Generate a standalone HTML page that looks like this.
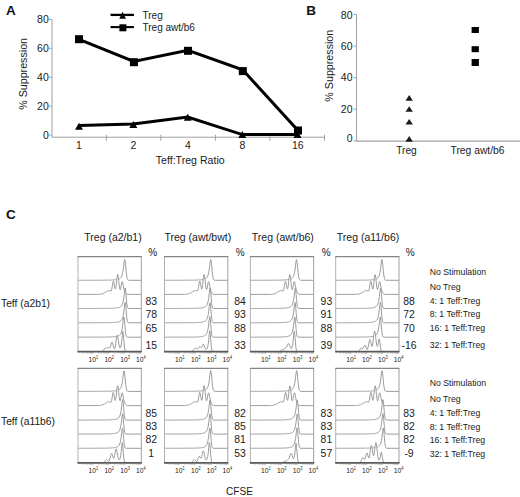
<!DOCTYPE html>
<html><head><meta charset="utf-8"><style>
html,body{margin:0;padding:0;background:#fff;width:520px;height:497px;overflow:hidden;}
svg{display:block;font-family:"Liberation Sans", sans-serif;}
</style></head><body>
<svg width="520" height="497" viewBox="0 0 520 497" font-family='"Liberation Sans", sans-serif'><text x="6.0" y="15.4" font-size="13.5" text-anchor="start" font-weight="bold" fill="#111" >A</text>
<line x1="52.0" y1="19.400000000000006" x2="52.0" y2="137.2" stroke="#a0a0a0" stroke-width="1"/>
<line x1="49.0" y1="135.0" x2="52.0" y2="135.0" stroke="#a0a0a0" stroke-width="1"/>
<text x="48.8" y="138.7" font-size="10.5" text-anchor="end" font-weight="normal" fill="#1a1a1a" >0</text>
<line x1="49.0" y1="106.1" x2="52.0" y2="106.1" stroke="#a0a0a0" stroke-width="1"/>
<text x="48.8" y="109.8" font-size="10.5" text-anchor="end" font-weight="normal" fill="#1a1a1a" >20</text>
<line x1="49.0" y1="77.2" x2="52.0" y2="77.2" stroke="#a0a0a0" stroke-width="1"/>
<text x="48.8" y="80.9" font-size="10.5" text-anchor="end" font-weight="normal" fill="#1a1a1a" >40</text>
<line x1="49.0" y1="48.3" x2="52.0" y2="48.3" stroke="#a0a0a0" stroke-width="1"/>
<text x="48.8" y="52.0" font-size="10.5" text-anchor="end" font-weight="normal" fill="#1a1a1a" >60</text>
<line x1="49.0" y1="19.400000000000006" x2="52.0" y2="19.400000000000006" stroke="#a0a0a0" stroke-width="1"/>
<text x="48.8" y="23.1" font-size="10.5" text-anchor="end" font-weight="normal" fill="#1a1a1a" >80</text>
<line x1="52.0" y1="137.2" x2="324.5" y2="137.2" stroke="#a0a0a0" stroke-width="1"/>
<line x1="106.3" y1="134.7" x2="106.3" y2="140.7" stroke="#a0a0a0" stroke-width="1"/>
<line x1="160.8" y1="134.7" x2="160.8" y2="140.7" stroke="#a0a0a0" stroke-width="1"/>
<line x1="215.4" y1="134.7" x2="215.4" y2="140.7" stroke="#a0a0a0" stroke-width="1"/>
<line x1="269.9" y1="134.7" x2="269.9" y2="140.7" stroke="#a0a0a0" stroke-width="1"/>
<line x1="324.5" y1="134.7" x2="324.5" y2="140.7" stroke="#a0a0a0" stroke-width="1"/>
<text x="79.0" y="148.8" font-size="10.5" text-anchor="middle" font-weight="normal" fill="#1a1a1a" >1</text>
<text x="133.5" y="148.8" font-size="10.5" text-anchor="middle" font-weight="normal" fill="#1a1a1a" >2</text>
<text x="188.0" y="148.8" font-size="10.5" text-anchor="middle" font-weight="normal" fill="#1a1a1a" >4</text>
<text x="242.4" y="148.8" font-size="10.5" text-anchor="middle" font-weight="normal" fill="#1a1a1a" >8</text>
<text x="297.8" y="148.8" font-size="10.5" text-anchor="middle" font-weight="normal" fill="#1a1a1a" >16</text>
<text x="190.2" y="163.8" font-size="10.6" text-anchor="middle" font-weight="normal" fill="#1a1a1a" >Teff:Treg Ratio</text>
<text x="0" y="0" font-size="10.7" text-anchor="middle" font-weight="normal" fill="#1a1a1a" transform="translate(26.6,73.9) rotate(-90)">% Suppression</text>
<polyline points="79,125.6 133.3,123.9 187.7,117.1 242.3,134.6 297.5,134.6" fill="none" stroke="#000" stroke-width="3.0" stroke-linejoin="miter"/>
<polyline points="79,39.3 133.7,61.4 187.9,50.4 242.7,69.8 298,130.6" fill="none" stroke="#000" stroke-width="3.0" stroke-linejoin="miter"/>
<polygon points="75.0,129.7 83.0,129.7 79,122.7" fill="#000"/>
<polygon points="129.3,127.9 137.3,127.9 133.3,120.9" fill="#000"/>
<polygon points="183.7,120.7 191.7,120.7 187.7,113.7" fill="#000"/>
<polygon points="238.3,138.1 246.3,138.1 242.3,131.1" fill="#000"/>
<polygon points="293.5,138.1 301.5,138.1 297.5,131.1" fill="#000"/>
<rect x="75.0" y="35.2" width="8" height="8" fill="#000"/>
<rect x="129.9" y="58.2" width="8" height="8" fill="#000"/>
<rect x="184.0" y="46.8" width="8" height="8" fill="#000"/>
<rect x="238.8" y="67.1" width="8" height="8" fill="#000"/>
<rect x="294.0" y="126.5" width="8" height="8" fill="#000"/>
<line x1="110.5" y1="14.9" x2="133.9" y2="14.9" stroke="#000" stroke-width="2.3"/>
<polygon points="119.3,18.7 125.89999999999999,18.7 122.6,11.7" fill="#000"/>
<line x1="110.5" y1="27.1" x2="133.9" y2="27.1" stroke="#000" stroke-width="2.1"/>
<rect x="119.4" y="24.3" width="7" height="7" fill="#000"/>
<text x="142.5" y="19.0" font-size="10" text-anchor="start" font-weight="normal" fill="#1a1a1a" >Treg</text>
<text x="142.5" y="31.0" font-size="10" text-anchor="start" font-weight="normal" fill="#1a1a1a" >Treg awt/b6</text>
<text x="306.3" y="15.4" font-size="13.5" text-anchor="start" font-weight="bold" fill="#111" >B</text>
<line x1="356.5" y1="14.500000000000014" x2="356.5" y2="141.2" stroke="#a0a0a0" stroke-width="1"/>
<line x1="353.5" y1="140.8" x2="356.5" y2="140.8" stroke="#a0a0a0" stroke-width="1"/>
<text x="352.5" y="141.65" font-size="10.5" text-anchor="end" font-weight="normal" fill="#1a1a1a" >0</text>
<line x1="353.5" y1="109.2" x2="356.5" y2="109.2" stroke="#a0a0a0" stroke-width="1"/>
<text x="352.5" y="112.85" font-size="10.5" text-anchor="end" font-weight="normal" fill="#1a1a1a" >20</text>
<line x1="353.5" y1="77.7" x2="356.5" y2="77.7" stroke="#a0a0a0" stroke-width="1"/>
<text x="352.5" y="81.35" font-size="10.5" text-anchor="end" font-weight="normal" fill="#1a1a1a" >40</text>
<line x1="353.5" y1="46.1" x2="356.5" y2="46.1" stroke="#a0a0a0" stroke-width="1"/>
<text x="352.5" y="49.95" font-size="10.5" text-anchor="end" font-weight="normal" fill="#1a1a1a" >60</text>
<line x1="353.5" y1="14.5" x2="356.5" y2="14.5" stroke="#a0a0a0" stroke-width="1"/>
<text x="352.5" y="18.85" font-size="10.5" text-anchor="end" font-weight="normal" fill="#1a1a1a" >80</text>
<line x1="356.5" y1="141.2" x2="520" y2="141.2" stroke="#a0a0a0" stroke-width="1.2"/>
<text x="406.5" y="153.5" font-size="10.2" text-anchor="middle" font-weight="normal" fill="#1a1a1a" >Treg</text>
<text x="477.5" y="153.5" font-size="10.3" text-anchor="middle" font-weight="normal" fill="#1a1a1a" >Treg awt/b6</text>
<text x="0" y="0" font-size="10.7" text-anchor="middle" font-weight="normal" fill="#1a1a1a" transform="translate(333.3,65.7) rotate(-90)">% Suppression</text>
<polygon points="405.5,100.7 412.9,100.7 409.2,95.10000000000001" fill="#1a1a1a"/>
<polygon points="405.5,111.8 412.9,111.8 409.2,106.2" fill="#1a1a1a"/>
<polygon points="405.5,124.6 412.9,124.6 409.2,119.0" fill="#1a1a1a"/>
<polygon points="405.5,141.70000000000002 412.9,141.70000000000002 409.2,136.1" fill="#1a1a1a"/>
<rect x="471.6" y="27.0" width="7.3" height="6.0" fill="#000"/>
<rect x="471.6" y="46.2" width="7.3" height="6.0" fill="#000"/>
<rect x="471.6" y="59.0" width="7.3" height="7.0" fill="#000"/>
<text x="6.0" y="219.2" font-size="13.5" text-anchor="start" font-weight="bold" fill="#111" >C</text>
<text x="113.0" y="241.0" font-size="10.5" text-anchor="middle" font-weight="normal" fill="#1a1a1a" >Treg (a2/b1)</text>
<text x="152.6" y="255.6" font-size="10" text-anchor="middle" font-weight="normal" fill="#1a1a1a" >%</text>
<text x="197.8" y="241.0" font-size="10.5" text-anchor="middle" font-weight="normal" fill="#1a1a1a" >Treg (awt/bwt)</text>
<text x="240.1" y="255.6" font-size="10" text-anchor="middle" font-weight="normal" fill="#1a1a1a" >%</text>
<text x="282.8" y="241.0" font-size="10.5" text-anchor="middle" font-weight="normal" fill="#1a1a1a" >Treg (awt/b6)</text>
<text x="326.2" y="255.6" font-size="10" text-anchor="middle" font-weight="normal" fill="#1a1a1a" >%</text>
<text x="368.0" y="241.0" font-size="10.5" text-anchor="middle" font-weight="normal" fill="#1a1a1a" >Treg (a11/b6)</text>
<text x="410.1" y="255.6" font-size="10" text-anchor="middle" font-weight="normal" fill="#1a1a1a" >%</text>
<text x="1.0" y="306.5" font-size="10.3" text-anchor="start" font-weight="normal" fill="#1a1a1a" >Teff (a2b1)</text>
<path d="M78.0,280.30 L78.00,280.28 L78.50,280.28 L79.00,280.28 L79.51,280.28 L80.01,280.28 L80.51,280.28 L81.01,280.28 L81.52,280.27 L82.02,280.27 L82.52,280.27 L83.02,280.27 L83.53,280.27 L84.03,280.27 L84.53,280.27 L85.03,280.27 L85.54,280.27 L86.04,280.27 L86.54,280.27 L87.04,280.27 L87.55,280.27 L88.05,280.27 L88.55,280.26 L89.05,280.26 L89.55,280.26 L90.06,280.26 L90.56,280.26 L91.06,280.26 L91.56,280.26 L92.07,280.26 L92.57,280.25 L93.07,280.25 L93.57,280.25 L94.08,280.25 L94.58,280.25 L95.08,280.25 L95.58,280.24 L96.09,280.24 L96.59,280.24 L97.09,280.24 L97.59,280.24 L98.10,280.23 L98.60,280.23 L99.10,280.23 L99.60,280.23 L100.10,280.22 L100.61,280.22 L101.11,280.22 L101.61,280.21 L102.11,280.21 L102.62,280.20 L103.12,280.20 L103.62,280.20 L104.12,280.19 L104.63,280.18 L105.13,280.18 L105.63,280.17 L106.13,280.17 L106.64,280.16 L107.14,280.15 L107.64,280.14 L108.14,280.13 L108.65,280.12 L109.15,280.11 L109.65,280.10 L110.15,280.08 L110.65,280.07 L111.16,280.05 L111.66,280.03 L112.16,280.01 L112.66,279.98 L113.17,279.95 L113.67,279.92 L114.17,279.89 L114.67,279.84 L115.18,279.80 L115.68,279.74 L116.18,279.67 L116.68,279.60 L117.19,279.50 L117.69,279.39 L118.19,279.25 L118.69,279.08 L119.20,278.86 L119.70,278.58 L120.20,278.22 L120.70,277.73 L121.20,277.06 L121.71,276.12 L122.21,274.76 L122.71,272.75 L123.21,269.80 L123.72,265.75 L124.22,261.44 L124.72,259.50 L125.22,261.55 L125.73,266.33 L126.23,271.70 L126.73,275.93 L127.23,278.46 L127.74,279.66 L128.24,280.12 L128.74,280.26 L129.24,280.29 L141.30,280.30 L141.3,280.30" fill="#fff" stroke="#8a8a8a" stroke-width="0.85"/>
<path d="M78.0,294.40 L78.00,294.40 L97.09,294.38 L97.59,294.37 L98.10,294.36 L98.60,294.34 L99.10,294.31 L99.60,294.27 L100.10,294.22 L100.61,294.16 L101.11,294.07 L101.61,293.96 L102.11,293.83 L102.62,293.66 L103.12,293.47 L103.62,293.24 L104.12,292.98 L104.63,292.70 L105.13,292.40 L105.63,292.08 L106.13,291.76 L106.64,291.45 L107.14,291.16 L107.64,290.90 L108.14,290.68 L108.65,290.52 L109.15,290.42 L109.65,290.36 L110.15,290.63 L110.65,291.10 L111.16,291.03 L111.66,289.71 L112.16,286.98 L112.66,283.69 L113.17,281.44 L113.67,281.53 L114.17,283.89 L114.67,287.02 L115.18,289.02 L115.68,288.59 L116.18,285.50 L116.68,280.72 L117.19,276.27 L117.69,274.39 L118.19,276.11 L118.69,280.50 L119.20,285.39 L119.70,288.78 L120.20,289.70 L120.70,288.26 L121.20,285.40 L121.71,282.67 L122.21,281.55 L122.71,282.63 L123.21,285.21 L123.72,287.93 L124.22,289.93 L124.72,291.24 L125.22,292.31 L125.73,293.24 L126.23,293.90 L126.73,294.24 L127.23,294.36 L127.74,294.39 L141.30,294.40 L141.3,294.40" fill="#fff" stroke="#8a8a8a" stroke-width="0.85"/>
<path d="M78.0,308.50 L78.00,308.48 L78.50,308.48 L79.00,308.48 L79.51,308.48 L80.01,308.48 L80.51,308.48 L81.01,308.48 L81.52,308.48 L82.02,308.48 L82.52,308.48 L83.02,308.48 L83.53,308.48 L84.03,308.47 L84.53,308.47 L85.03,308.47 L85.54,308.47 L86.04,308.47 L86.54,308.47 L87.04,308.47 L87.55,308.47 L88.05,308.47 L88.55,308.47 L89.05,308.47 L89.55,308.47 L90.06,308.47 L90.56,308.46 L91.06,308.46 L91.56,308.46 L92.07,308.46 L92.57,308.46 L93.07,308.46 L93.57,308.46 L94.08,308.46 L94.58,308.45 L95.08,308.45 L95.58,308.45 L96.09,308.45 L96.59,308.45 L97.09,308.45 L97.59,308.44 L98.10,308.44 L98.60,308.44 L99.10,308.44 L99.60,308.43 L100.10,308.43 L100.61,308.43 L101.11,308.43 L101.61,308.42 L102.11,308.42 L102.62,308.42 L103.12,308.41 L103.62,308.41 L104.12,308.40 L104.63,308.40 L105.13,308.39 L105.63,308.39 L106.13,308.38 L106.64,308.38 L107.14,308.37 L107.64,308.36 L108.14,308.35 L108.65,308.34 L109.15,308.33 L109.65,308.32 L110.15,308.31 L110.65,308.30 L111.16,308.28 L111.66,308.27 L112.16,308.25 L112.66,308.23 L113.17,308.21 L113.67,308.18 L114.17,308.15 L114.67,308.12 L115.18,308.08 L115.68,308.04 L116.18,307.98 L116.68,307.92 L117.19,307.85 L117.69,307.76 L118.19,307.66 L118.69,307.53 L119.20,307.37 L119.70,307.17 L120.20,306.91 L120.70,306.57 L121.20,306.11 L121.71,305.49 L122.21,304.60 L122.71,303.30 L123.21,301.37 L123.72,298.48 L124.22,294.44 L124.72,290.01 L125.22,288.01 L125.73,290.92 L126.23,297.09 L126.73,302.90 L127.23,306.43 L127.74,307.92 L128.24,308.38 L128.74,308.48 L141.30,308.50 L141.3,308.50" fill="#fff" stroke="#8a8a8a" stroke-width="0.85"/>
<path d="M78.0,322.80 L78.00,322.78 L78.50,322.78 L79.00,322.78 L79.51,322.78 L80.01,322.78 L80.51,322.78 L81.01,322.78 L81.52,322.78 L82.02,322.78 L82.52,322.78 L83.02,322.78 L83.53,322.78 L84.03,322.77 L84.53,322.77 L85.03,322.77 L85.54,322.77 L86.04,322.77 L86.54,322.77 L87.04,322.77 L87.55,322.77 L88.05,322.77 L88.55,322.77 L89.05,322.77 L89.55,322.77 L90.06,322.77 L90.56,322.76 L91.06,322.76 L91.56,322.76 L92.07,322.76 L92.57,322.76 L93.07,322.76 L93.57,322.76 L94.08,322.76 L94.58,322.75 L95.08,322.75 L95.58,322.75 L96.09,322.75 L96.59,322.75 L97.09,322.75 L97.59,322.74 L98.10,322.74 L98.60,322.74 L99.10,322.74 L99.60,322.73 L100.10,322.73 L100.61,322.73 L101.11,322.73 L101.61,322.72 L102.11,322.72 L102.62,322.72 L103.12,322.71 L103.62,322.71 L104.12,322.70 L104.63,322.70 L105.13,322.69 L105.63,322.69 L106.13,322.68 L106.64,322.68 L107.14,322.67 L107.64,322.66 L108.14,322.65 L108.65,322.64 L109.15,322.63 L109.65,322.62 L110.15,322.61 L110.65,322.60 L111.16,322.58 L111.66,322.57 L112.16,322.55 L112.66,322.53 L113.17,322.51 L113.67,322.48 L114.17,322.45 L114.67,322.42 L115.18,322.38 L115.68,322.34 L116.18,322.28 L116.68,322.22 L117.19,322.15 L117.69,322.06 L118.19,321.96 L118.69,321.83 L119.20,321.67 L119.70,321.47 L120.20,321.21 L120.70,320.87 L121.20,320.41 L121.71,319.79 L122.21,318.90 L122.71,317.60 L123.21,315.67 L123.72,312.78 L124.22,308.74 L124.72,304.31 L125.22,302.31 L125.73,305.22 L126.23,311.39 L126.73,317.20 L127.23,320.73 L127.74,322.22 L128.24,322.68 L128.74,322.78 L141.30,322.80 L141.3,322.80" fill="#fff" stroke="#8a8a8a" stroke-width="0.85"/>
<path d="M78.0,337.20 L78.00,337.18 L78.50,337.18 L79.00,337.18 L79.51,337.18 L80.01,337.18 L80.51,337.18 L81.01,337.18 L81.52,337.18 L82.02,337.18 L82.52,337.17 L83.02,337.17 L83.53,337.17 L84.03,337.17 L84.53,337.17 L85.03,337.17 L85.54,337.17 L86.04,337.17 L86.54,337.17 L87.04,337.17 L87.55,337.17 L88.05,337.17 L88.55,337.17 L89.05,337.16 L89.55,337.16 L90.06,337.16 L90.56,337.16 L91.06,337.16 L91.56,337.16 L92.07,337.16 L92.57,337.16 L93.07,337.15 L93.57,337.15 L94.08,337.15 L94.58,337.15 L95.08,337.15 L95.58,337.15 L96.09,337.14 L96.59,337.14 L97.09,337.14 L97.59,337.14 L98.10,337.14 L98.60,337.13 L99.10,337.13 L99.60,337.13 L100.10,337.12 L100.61,337.12 L101.11,337.12 L101.61,337.11 L102.11,337.11 L102.62,337.11 L103.12,337.10 L103.62,337.10 L104.12,337.09 L104.63,337.08 L105.13,337.08 L105.63,337.07 L106.13,337.06 L106.64,337.06 L107.14,337.05 L107.64,337.04 L108.14,337.03 L108.65,337.02 L109.15,337.00 L109.65,336.99 L110.15,336.97 L110.65,336.96 L111.16,336.94 L111.66,336.92 L112.16,336.89 L112.66,336.86 L113.17,336.83 L113.67,336.80 L114.17,336.75 L114.67,336.71 L115.18,336.65 L115.68,336.58 L116.18,336.50 L116.68,336.40 L117.19,336.29 L117.69,336.14 L118.19,335.96 L118.69,335.72 L119.20,335.42 L119.70,335.02 L120.20,334.47 L120.70,333.70 L121.20,332.60 L121.71,330.96 L122.21,328.51 L122.71,324.93 L123.21,320.45 L123.72,317.02 L124.22,317.82 L124.72,323.09 L125.22,329.44 L125.73,333.97 L126.23,336.18 L126.73,336.96 L127.23,337.16 L127.74,337.19 L141.30,337.20 L141.3,337.20" fill="#fff" stroke="#8a8a8a" stroke-width="0.85"/>
<path d="M78.0,351.70 L78.00,351.69 L87.55,351.68 L88.05,351.68 L88.55,351.68 L89.05,351.68 L89.55,351.68 L90.06,351.68 L90.56,351.68 L91.06,351.68 L91.56,351.67 L92.07,351.67 L92.57,351.67 L93.07,351.67 L93.57,351.67 L94.08,351.67 L94.58,351.67 L95.08,351.67 L95.58,351.67 L96.09,351.67 L96.59,351.66 L97.09,351.66 L97.59,351.66 L98.10,351.66 L98.60,351.66 L99.10,351.66 L99.60,351.65 L100.10,351.65 L100.61,351.65 L101.11,351.64 L101.61,351.61 L102.11,351.53 L102.62,351.34 L103.12,350.95 L103.62,350.31 L104.12,349.48 L104.63,348.66 L105.13,348.12 L105.63,347.97 L106.13,348.09 L106.64,348.16 L107.14,347.96 L107.64,347.58 L108.14,347.33 L108.65,347.44 L109.15,347.80 L109.65,347.93 L110.15,347.33 L110.65,345.85 L111.16,343.94 L111.66,342.47 L112.16,342.23 L112.66,343.42 L113.17,345.48 L113.67,347.52 L114.17,348.74 L114.67,348.65 L115.18,347.00 L115.68,343.91 L116.18,340.05 L116.68,336.70 L117.19,335.24 L117.69,336.30 L118.19,339.30 L118.69,342.90 L119.20,345.83 L119.70,347.48 L120.20,347.82 L120.70,347.02 L121.20,345.02 L121.71,341.37 L122.21,335.78 L122.71,331.33 L123.21,333.06 L123.72,338.83 L124.22,344.98 L124.72,349.05 L125.22,350.91 L125.73,351.52 L126.23,351.67 L126.73,351.70 L141.30,351.70 L141.3,351.70" fill="#fff" stroke="#8a8a8a" stroke-width="0.85"/>
<line x1="78.0" y1="256.7" x2="78.0" y2="351.7" stroke="#a8a8a8" stroke-width="0.9"/>
<line x1="141.3" y1="256.7" x2="141.3" y2="351.7" stroke="#a0a0a0" stroke-width="1"/>
<line x1="77.5" y1="256.7" x2="141.8" y2="256.7" stroke="#858585" stroke-width="1.3"/>
<line x1="77.5" y1="351.7" x2="141.8" y2="351.7" stroke="#5a5a5a" stroke-width="1.7"/>
<text transform="translate(93.4,361.7) scale(0.85,1)" font-size="7.9" text-anchor="middle" fill="#1a1a1a">10<tspan font-size="4.6" dy="-2.6">1</tspan></text>
<text transform="translate(109.2,361.7) scale(0.85,1)" font-size="7.9" text-anchor="middle" fill="#1a1a1a">10<tspan font-size="4.6" dy="-2.6">2</tspan></text>
<text transform="translate(125.1,361.7) scale(0.85,1)" font-size="7.9" text-anchor="middle" fill="#1a1a1a">10<tspan font-size="4.6" dy="-2.6">3</tspan></text>
<text transform="translate(140.9,361.7) scale(0.85,1)" font-size="7.9" text-anchor="middle" fill="#1a1a1a">10<tspan font-size="4.6" dy="-2.6">4</tspan></text>
<line x1="82.8" y1="352.3" x2="82.8" y2="353.5" stroke="#888" stroke-width="0.7"/>
<line x1="85.6" y1="352.3" x2="85.6" y2="353.5" stroke="#888" stroke-width="0.7"/>
<line x1="87.5" y1="352.3" x2="87.5" y2="353.5" stroke="#888" stroke-width="0.7"/>
<line x1="89.1" y1="352.3" x2="89.1" y2="353.5" stroke="#888" stroke-width="0.7"/>
<line x1="90.3" y1="352.3" x2="90.3" y2="353.5" stroke="#888" stroke-width="0.7"/>
<line x1="91.4" y1="352.3" x2="91.4" y2="353.5" stroke="#888" stroke-width="0.7"/>
<line x1="92.3" y1="352.3" x2="92.3" y2="353.5" stroke="#888" stroke-width="0.7"/>
<line x1="93.1" y1="352.3" x2="93.1" y2="353.5" stroke="#888" stroke-width="0.7"/>
<line x1="98.6" y1="352.3" x2="98.6" y2="353.5" stroke="#888" stroke-width="0.7"/>
<line x1="101.4" y1="352.3" x2="101.4" y2="353.5" stroke="#888" stroke-width="0.7"/>
<line x1="103.4" y1="352.3" x2="103.4" y2="353.5" stroke="#888" stroke-width="0.7"/>
<line x1="104.9" y1="352.3" x2="104.9" y2="353.5" stroke="#888" stroke-width="0.7"/>
<line x1="106.1" y1="352.3" x2="106.1" y2="353.5" stroke="#888" stroke-width="0.7"/>
<line x1="107.2" y1="352.3" x2="107.2" y2="353.5" stroke="#888" stroke-width="0.7"/>
<line x1="108.1" y1="352.3" x2="108.1" y2="353.5" stroke="#888" stroke-width="0.7"/>
<line x1="108.9" y1="352.3" x2="108.9" y2="353.5" stroke="#888" stroke-width="0.7"/>
<line x1="114.4" y1="352.3" x2="114.4" y2="353.5" stroke="#888" stroke-width="0.7"/>
<line x1="117.2" y1="352.3" x2="117.2" y2="353.5" stroke="#888" stroke-width="0.7"/>
<line x1="119.2" y1="352.3" x2="119.2" y2="353.5" stroke="#888" stroke-width="0.7"/>
<line x1="120.7" y1="352.3" x2="120.7" y2="353.5" stroke="#888" stroke-width="0.7"/>
<line x1="122.0" y1="352.3" x2="122.0" y2="353.5" stroke="#888" stroke-width="0.7"/>
<line x1="123.0" y1="352.3" x2="123.0" y2="353.5" stroke="#888" stroke-width="0.7"/>
<line x1="123.9" y1="352.3" x2="123.9" y2="353.5" stroke="#888" stroke-width="0.7"/>
<line x1="124.8" y1="352.3" x2="124.8" y2="353.5" stroke="#888" stroke-width="0.7"/>
<line x1="130.2" y1="352.3" x2="130.2" y2="353.5" stroke="#888" stroke-width="0.7"/>
<line x1="133.0" y1="352.3" x2="133.0" y2="353.5" stroke="#888" stroke-width="0.7"/>
<line x1="135.0" y1="352.3" x2="135.0" y2="353.5" stroke="#888" stroke-width="0.7"/>
<line x1="136.5" y1="352.3" x2="136.5" y2="353.5" stroke="#888" stroke-width="0.7"/>
<line x1="137.8" y1="352.3" x2="137.8" y2="353.5" stroke="#888" stroke-width="0.7"/>
<line x1="138.8" y1="352.3" x2="138.8" y2="353.5" stroke="#888" stroke-width="0.7"/>
<line x1="139.8" y1="352.3" x2="139.8" y2="353.5" stroke="#888" stroke-width="0.7"/>
<line x1="140.6" y1="352.3" x2="140.6" y2="353.5" stroke="#888" stroke-width="0.7"/>
<text x="151.2" y="305.09999999999997" font-size="10.4" text-anchor="middle" font-weight="normal" fill="#1a1a1a" >83</text>
<text x="151.2" y="317.7" font-size="10.4" text-anchor="middle" font-weight="normal" fill="#1a1a1a" >78</text>
<text x="151.2" y="331.7" font-size="10.4" text-anchor="middle" font-weight="normal" fill="#1a1a1a" >65</text>
<text x="151.2" y="348.5" font-size="10.4" text-anchor="middle" font-weight="normal" fill="#1a1a1a" >15</text>
<path d="M164.5,280.30 L164.50,280.28 L165.00,280.28 L165.50,280.28 L166.01,280.28 L166.51,280.28 L167.01,280.28 L167.51,280.27 L168.02,280.27 L168.52,280.27 L169.02,280.27 L169.52,280.27 L170.03,280.27 L170.53,280.27 L171.03,280.27 L171.53,280.27 L172.04,280.27 L172.54,280.27 L173.04,280.27 L173.54,280.27 L174.05,280.27 L174.55,280.26 L175.05,280.26 L175.55,280.26 L176.05,280.26 L176.56,280.26 L177.06,280.26 L177.56,280.26 L178.06,280.26 L178.57,280.25 L179.07,280.25 L179.57,280.25 L180.07,280.25 L180.58,280.25 L181.08,280.25 L181.58,280.24 L182.08,280.24 L182.59,280.24 L183.09,280.24 L183.59,280.24 L184.09,280.23 L184.60,280.23 L185.10,280.23 L185.60,280.23 L186.10,280.22 L186.60,280.22 L187.11,280.22 L187.61,280.21 L188.11,280.21 L188.61,280.20 L189.12,280.20 L189.62,280.20 L190.12,280.19 L190.62,280.18 L191.13,280.18 L191.63,280.17 L192.13,280.17 L192.63,280.16 L193.14,280.15 L193.64,280.14 L194.14,280.13 L194.64,280.12 L195.15,280.11 L195.65,280.10 L196.15,280.08 L196.65,280.07 L197.15,280.05 L197.66,280.03 L198.16,280.01 L198.66,279.98 L199.16,279.95 L199.67,279.92 L200.17,279.89 L200.67,279.84 L201.17,279.80 L201.68,279.74 L202.18,279.67 L202.68,279.60 L203.18,279.50 L203.69,279.39 L204.19,279.25 L204.69,279.08 L205.19,278.86 L205.70,278.59 L206.20,278.22 L206.70,277.74 L207.20,277.07 L207.70,276.13 L208.21,274.77 L208.71,272.77 L209.21,269.82 L209.71,265.77 L210.22,261.46 L210.72,259.50 L211.22,261.53 L211.72,266.31 L212.23,271.68 L212.73,275.91 L213.23,278.45 L213.73,279.66 L214.24,280.12 L214.74,280.26 L215.24,280.29 L227.80,280.30 L227.8,280.30" fill="#fff" stroke="#8a8a8a" stroke-width="0.85"/>
<path d="M164.5,294.40 L164.50,294.40 L183.59,294.38 L184.09,294.37 L184.60,294.36 L185.10,294.33 L185.60,294.31 L186.10,294.27 L186.60,294.21 L187.11,294.14 L187.61,294.05 L188.11,293.94 L188.61,293.79 L189.12,293.62 L189.62,293.42 L190.12,293.19 L190.62,292.93 L191.13,292.64 L191.63,292.34 L192.13,292.02 L192.63,291.70 L193.14,291.39 L193.64,291.10 L194.14,290.85 L194.64,290.65 L195.15,290.50 L195.65,290.41 L196.15,290.38 L196.65,290.73 L197.15,291.15 L197.66,290.88 L198.16,289.27 L198.66,286.33 L199.16,283.10 L199.67,281.25 L200.17,281.85 L200.67,284.52 L201.17,287.56 L201.68,289.15 L202.18,288.17 L202.68,284.63 L203.18,279.73 L203.69,275.63 L204.19,274.45 L204.69,276.83 L205.19,281.51 L205.70,286.23 L206.20,289.17 L206.70,289.58 L207.20,287.76 L207.70,284.80 L208.21,282.28 L208.71,281.59 L209.21,283.07 L209.71,285.78 L210.22,288.40 L210.72,290.23 L211.22,291.47 L211.72,292.51 L212.23,293.40 L212.73,293.99 L213.23,294.27 L213.73,294.37 L214.24,294.40 L227.80,294.40 L227.8,294.40" fill="#fff" stroke="#8a8a8a" stroke-width="0.85"/>
<path d="M164.5,308.50 L164.50,308.48 L165.00,308.48 L165.50,308.48 L166.01,308.48 L166.51,308.48 L167.01,308.48 L167.51,308.48 L168.02,308.48 L168.52,308.48 L169.02,308.47 L169.52,308.47 L170.03,308.47 L170.53,308.47 L171.03,308.47 L171.53,308.47 L172.04,308.47 L172.54,308.47 L173.04,308.47 L173.54,308.47 L174.05,308.47 L174.55,308.47 L175.05,308.46 L175.55,308.46 L176.05,308.46 L176.56,308.46 L177.06,308.46 L177.56,308.46 L178.06,308.46 L178.57,308.46 L179.07,308.46 L179.57,308.45 L180.07,308.45 L180.58,308.45 L181.08,308.45 L181.58,308.45 L182.08,308.45 L182.59,308.44 L183.09,308.44 L183.59,308.44 L184.09,308.44 L184.60,308.43 L185.10,308.43 L185.60,308.43 L186.10,308.43 L186.60,308.42 L187.11,308.42 L187.61,308.42 L188.11,308.41 L188.61,308.41 L189.12,308.40 L189.62,308.40 L190.12,308.39 L190.62,308.39 L191.13,308.38 L191.63,308.37 L192.13,308.37 L192.63,308.36 L193.14,308.35 L193.64,308.34 L194.14,308.33 L194.64,308.32 L195.15,308.31 L195.65,308.30 L196.15,308.28 L196.65,308.26 L197.15,308.25 L197.66,308.23 L198.16,308.20 L198.66,308.18 L199.16,308.15 L199.67,308.11 L200.17,308.07 L200.67,308.03 L201.17,307.97 L201.68,307.91 L202.18,307.84 L202.68,307.75 L203.18,307.64 L203.69,307.50 L204.19,307.34 L204.69,307.13 L205.19,306.85 L205.70,306.50 L206.20,306.01 L206.70,305.35 L207.20,304.39 L207.70,303.00 L208.21,300.92 L208.71,297.82 L209.21,293.59 L209.71,289.35 L210.22,288.15 L210.72,291.92 L211.22,298.29 L211.72,303.74 L212.23,306.82 L212.73,308.05 L213.23,308.41 L213.73,308.49 L227.80,308.50 L227.8,308.50" fill="#fff" stroke="#8a8a8a" stroke-width="0.85"/>
<path d="M164.5,322.80 L164.50,322.78 L165.00,322.78 L165.50,322.78 L166.01,322.78 L166.51,322.78 L167.01,322.78 L167.51,322.78 L168.02,322.78 L168.52,322.77 L169.02,322.77 L169.52,322.77 L170.03,322.77 L170.53,322.77 L171.03,322.77 L171.53,322.77 L172.04,322.77 L172.54,322.77 L173.04,322.77 L173.54,322.77 L174.05,322.77 L174.55,322.77 L175.05,322.76 L175.55,322.76 L176.05,322.76 L176.56,322.76 L177.06,322.76 L177.56,322.76 L178.06,322.76 L178.57,322.76 L179.07,322.76 L179.57,322.75 L180.07,322.75 L180.58,322.75 L181.08,322.75 L181.58,322.75 L182.08,322.74 L182.59,322.74 L183.09,322.74 L183.59,322.74 L184.09,322.74 L184.60,322.73 L185.10,322.73 L185.60,322.73 L186.10,322.72 L186.60,322.72 L187.11,322.72 L187.61,322.71 L188.11,322.71 L188.61,322.71 L189.12,322.70 L189.62,322.70 L190.12,322.69 L190.62,322.69 L191.13,322.68 L191.63,322.67 L192.13,322.67 L192.63,322.66 L193.14,322.65 L193.64,322.64 L194.14,322.63 L194.64,322.62 L195.15,322.61 L195.65,322.59 L196.15,322.58 L196.65,322.56 L197.15,322.54 L197.66,322.52 L198.16,322.50 L198.66,322.47 L199.16,322.44 L199.67,322.40 L200.17,322.36 L200.67,322.32 L201.17,322.26 L201.68,322.20 L202.18,322.12 L202.68,322.03 L203.18,321.91 L203.69,321.77 L204.19,321.60 L204.69,321.38 L205.19,321.09 L205.70,320.71 L206.20,320.20 L206.70,319.48 L207.20,318.46 L207.70,316.95 L208.21,314.69 L208.71,311.36 L209.21,306.97 L209.71,303.07 L210.22,302.83 L210.72,307.41 L211.22,313.83 L211.72,318.85 L212.23,321.48 L212.73,322.47 L213.23,322.74 L213.73,322.79 L227.80,322.80 L227.8,322.80" fill="#fff" stroke="#8a8a8a" stroke-width="0.85"/>
<path d="M164.5,337.20 L164.50,337.18 L165.00,337.18 L165.50,337.18 L166.01,337.18 L166.51,337.18 L167.01,337.18 L167.51,337.18 L168.02,337.18 L168.52,337.17 L169.02,337.17 L169.52,337.17 L170.03,337.17 L170.53,337.17 L171.03,337.17 L171.53,337.17 L172.04,337.17 L172.54,337.17 L173.04,337.17 L173.54,337.17 L174.05,337.17 L174.55,337.17 L175.05,337.16 L175.55,337.16 L176.05,337.16 L176.56,337.16 L177.06,337.16 L177.56,337.16 L178.06,337.16 L178.57,337.16 L179.07,337.15 L179.57,337.15 L180.07,337.15 L180.58,337.15 L181.08,337.15 L181.58,337.15 L182.08,337.14 L182.59,337.14 L183.09,337.14 L183.59,337.14 L184.09,337.13 L184.60,337.13 L185.10,337.13 L185.60,337.13 L186.10,337.12 L186.60,337.12 L187.11,337.12 L187.61,337.11 L188.11,337.11 L188.61,337.10 L189.12,337.10 L189.62,337.09 L190.12,337.09 L190.62,337.08 L191.13,337.08 L191.63,337.07 L192.13,337.06 L192.63,337.05 L193.14,337.05 L193.64,337.04 L194.14,337.03 L194.64,337.01 L195.15,337.00 L195.65,336.99 L196.15,336.97 L196.65,336.95 L197.15,336.93 L197.66,336.91 L198.16,336.89 L198.66,336.86 L199.16,336.83 L199.67,336.79 L200.17,336.75 L200.67,336.70 L201.17,336.64 L201.68,336.57 L202.18,336.48 L202.68,336.38 L203.18,336.26 L203.69,336.11 L204.19,335.92 L204.69,335.67 L205.19,335.35 L205.70,334.93 L206.20,334.34 L206.70,333.52 L207.20,332.33 L207.70,330.56 L208.21,327.91 L208.71,324.11 L209.21,319.60 L209.71,316.77 L210.22,318.58 L210.72,324.36 L211.22,330.51 L211.72,334.56 L212.23,336.41 L212.73,337.02 L213.23,337.17 L213.73,337.20 L227.80,337.20 L227.8,337.20" fill="#fff" stroke="#8a8a8a" stroke-width="0.85"/>
<path d="M164.5,351.70 L164.50,351.69 L174.05,351.68 L174.55,351.68 L175.05,351.68 L175.55,351.68 L176.05,351.68 L176.56,351.68 L177.06,351.68 L177.56,351.68 L178.06,351.67 L178.57,351.67 L179.07,351.67 L179.57,351.67 L180.07,351.67 L180.58,351.67 L181.08,351.67 L181.58,351.67 L182.08,351.67 L182.59,351.67 L183.09,351.66 L183.59,351.66 L184.09,351.66 L184.60,351.66 L185.10,351.66 L185.60,351.66 L186.10,351.65 L186.60,351.65 L187.11,351.65 L187.61,351.65 L188.11,351.65 L188.61,351.64 L189.12,351.64 L189.62,351.64 L190.12,351.63 L190.62,351.60 L191.13,351.54 L191.63,351.39 L192.13,351.10 L192.63,350.61 L193.14,349.97 L193.64,349.28 L194.14,348.73 L194.64,348.40 L195.15,348.26 L195.65,348.24 L196.15,348.30 L196.65,348.48 L197.15,348.69 L197.66,348.74 L198.16,348.43 L198.66,347.76 L199.16,347.04 L199.67,346.69 L200.17,346.87 L200.67,347.37 L201.17,347.65 L201.68,347.27 L202.18,346.22 L202.68,344.99 L203.18,344.27 L203.69,344.53 L204.19,345.67 L204.69,347.18 L205.19,348.48 L205.70,349.24 L206.20,349.41 L206.70,349.07 L207.20,348.25 L207.70,346.79 L208.21,344.31 L208.71,340.10 L209.21,334.15 L209.71,330.70 L210.22,333.59 L210.72,339.89 L211.22,345.88 L211.72,349.53 L212.23,351.09 L212.73,351.57 L213.23,351.68 L213.73,351.70 L227.80,351.70 L227.8,351.70" fill="#fff" stroke="#8a8a8a" stroke-width="0.85"/>
<line x1="164.5" y1="256.7" x2="164.5" y2="351.7" stroke="#a8a8a8" stroke-width="0.9"/>
<line x1="227.8" y1="256.7" x2="227.8" y2="351.7" stroke="#a0a0a0" stroke-width="1"/>
<line x1="164.0" y1="256.7" x2="228.3" y2="256.7" stroke="#858585" stroke-width="1.3"/>
<line x1="164.0" y1="351.7" x2="228.3" y2="351.7" stroke="#5a5a5a" stroke-width="1.7"/>
<text transform="translate(179.9,361.7) scale(0.85,1)" font-size="7.9" text-anchor="middle" fill="#1a1a1a">10<tspan font-size="4.6" dy="-2.6">1</tspan></text>
<text transform="translate(195.8,361.7) scale(0.85,1)" font-size="7.9" text-anchor="middle" fill="#1a1a1a">10<tspan font-size="4.6" dy="-2.6">2</tspan></text>
<text transform="translate(211.6,361.7) scale(0.85,1)" font-size="7.9" text-anchor="middle" fill="#1a1a1a">10<tspan font-size="4.6" dy="-2.6">3</tspan></text>
<text transform="translate(227.4,361.7) scale(0.85,1)" font-size="7.9" text-anchor="middle" fill="#1a1a1a">10<tspan font-size="4.6" dy="-2.6">4</tspan></text>
<line x1="169.3" y1="352.3" x2="169.3" y2="353.5" stroke="#888" stroke-width="0.7"/>
<line x1="172.1" y1="352.3" x2="172.1" y2="353.5" stroke="#888" stroke-width="0.7"/>
<line x1="174.0" y1="352.3" x2="174.0" y2="353.5" stroke="#888" stroke-width="0.7"/>
<line x1="175.6" y1="352.3" x2="175.6" y2="353.5" stroke="#888" stroke-width="0.7"/>
<line x1="176.8" y1="352.3" x2="176.8" y2="353.5" stroke="#888" stroke-width="0.7"/>
<line x1="177.9" y1="352.3" x2="177.9" y2="353.5" stroke="#888" stroke-width="0.7"/>
<line x1="178.8" y1="352.3" x2="178.8" y2="353.5" stroke="#888" stroke-width="0.7"/>
<line x1="179.6" y1="352.3" x2="179.6" y2="353.5" stroke="#888" stroke-width="0.7"/>
<line x1="185.1" y1="352.3" x2="185.1" y2="353.5" stroke="#888" stroke-width="0.7"/>
<line x1="187.9" y1="352.3" x2="187.9" y2="353.5" stroke="#888" stroke-width="0.7"/>
<line x1="189.9" y1="352.3" x2="189.9" y2="353.5" stroke="#888" stroke-width="0.7"/>
<line x1="191.4" y1="352.3" x2="191.4" y2="353.5" stroke="#888" stroke-width="0.7"/>
<line x1="192.6" y1="352.3" x2="192.6" y2="353.5" stroke="#888" stroke-width="0.7"/>
<line x1="193.7" y1="352.3" x2="193.7" y2="353.5" stroke="#888" stroke-width="0.7"/>
<line x1="194.6" y1="352.3" x2="194.6" y2="353.5" stroke="#888" stroke-width="0.7"/>
<line x1="195.4" y1="352.3" x2="195.4" y2="353.5" stroke="#888" stroke-width="0.7"/>
<line x1="200.9" y1="352.3" x2="200.9" y2="353.5" stroke="#888" stroke-width="0.7"/>
<line x1="203.7" y1="352.3" x2="203.7" y2="353.5" stroke="#888" stroke-width="0.7"/>
<line x1="205.7" y1="352.3" x2="205.7" y2="353.5" stroke="#888" stroke-width="0.7"/>
<line x1="207.2" y1="352.3" x2="207.2" y2="353.5" stroke="#888" stroke-width="0.7"/>
<line x1="208.5" y1="352.3" x2="208.5" y2="353.5" stroke="#888" stroke-width="0.7"/>
<line x1="209.5" y1="352.3" x2="209.5" y2="353.5" stroke="#888" stroke-width="0.7"/>
<line x1="210.4" y1="352.3" x2="210.4" y2="353.5" stroke="#888" stroke-width="0.7"/>
<line x1="211.3" y1="352.3" x2="211.3" y2="353.5" stroke="#888" stroke-width="0.7"/>
<line x1="216.7" y1="352.3" x2="216.7" y2="353.5" stroke="#888" stroke-width="0.7"/>
<line x1="219.5" y1="352.3" x2="219.5" y2="353.5" stroke="#888" stroke-width="0.7"/>
<line x1="221.5" y1="352.3" x2="221.5" y2="353.5" stroke="#888" stroke-width="0.7"/>
<line x1="223.0" y1="352.3" x2="223.0" y2="353.5" stroke="#888" stroke-width="0.7"/>
<line x1="224.3" y1="352.3" x2="224.3" y2="353.5" stroke="#888" stroke-width="0.7"/>
<line x1="225.3" y1="352.3" x2="225.3" y2="353.5" stroke="#888" stroke-width="0.7"/>
<line x1="226.3" y1="352.3" x2="226.3" y2="353.5" stroke="#888" stroke-width="0.7"/>
<line x1="227.1" y1="352.3" x2="227.1" y2="353.5" stroke="#888" stroke-width="0.7"/>
<text x="240.0" y="305.09999999999997" font-size="10.4" text-anchor="middle" font-weight="normal" fill="#1a1a1a" >84</text>
<text x="240.0" y="317.7" font-size="10.4" text-anchor="middle" font-weight="normal" fill="#1a1a1a" >93</text>
<text x="240.0" y="331.7" font-size="10.4" text-anchor="middle" font-weight="normal" fill="#1a1a1a" >88</text>
<text x="240.0" y="348.5" font-size="10.4" text-anchor="middle" font-weight="normal" fill="#1a1a1a" >33</text>
<path d="M250.4,280.30 L250.40,280.28 L250.90,280.28 L251.40,280.28 L251.91,280.28 L252.41,280.28 L252.91,280.28 L253.41,280.27 L253.92,280.27 L254.42,280.27 L254.92,280.27 L255.42,280.27 L255.93,280.27 L256.43,280.27 L256.93,280.27 L257.43,280.27 L257.94,280.27 L258.44,280.27 L258.94,280.27 L259.44,280.27 L259.95,280.27 L260.45,280.26 L260.95,280.26 L261.45,280.26 L261.95,280.26 L262.46,280.26 L262.96,280.26 L263.46,280.26 L263.96,280.26 L264.47,280.25 L264.97,280.25 L265.47,280.25 L265.97,280.25 L266.48,280.25 L266.98,280.25 L267.48,280.24 L267.98,280.24 L268.49,280.24 L268.99,280.24 L269.49,280.24 L269.99,280.23 L270.50,280.23 L271.00,280.23 L271.50,280.23 L272.00,280.22 L272.50,280.22 L273.01,280.22 L273.51,280.21 L274.01,280.21 L274.51,280.20 L275.02,280.20 L275.52,280.19 L276.02,280.19 L276.52,280.18 L277.03,280.18 L277.53,280.17 L278.03,280.16 L278.53,280.16 L279.04,280.15 L279.54,280.14 L280.04,280.13 L280.54,280.12 L281.05,280.11 L281.55,280.09 L282.05,280.08 L282.55,280.06 L283.05,280.04 L283.56,280.02 L284.06,280.00 L284.56,279.98 L285.06,279.95 L285.57,279.92 L286.07,279.88 L286.57,279.84 L287.07,279.79 L287.58,279.73 L288.08,279.66 L288.58,279.58 L289.08,279.48 L289.59,279.37 L290.09,279.22 L290.59,279.04 L291.09,278.81 L291.60,278.52 L292.10,278.14 L292.60,277.62 L293.10,276.91 L293.60,275.90 L294.11,274.43 L294.61,272.26 L295.11,269.10 L295.61,264.88 L296.12,260.78 L296.62,259.61 L297.12,262.33 L297.62,267.40 L298.13,272.65 L298.63,276.55 L299.13,278.78 L299.63,279.79 L300.14,280.16 L300.64,280.27 L301.14,280.29 L313.70,280.30 L313.7,280.30" fill="#fff" stroke="#8a8a8a" stroke-width="0.85"/>
<path d="M250.4,294.40 L250.40,294.40 L268.99,294.39 L269.49,294.38 L269.99,294.37 L270.50,294.35 L271.00,294.32 L271.50,294.29 L272.00,294.25 L272.50,294.19 L273.01,294.11 L273.51,294.01 L274.01,293.88 L274.51,293.73 L275.02,293.55 L275.52,293.33 L276.02,293.09 L276.52,292.82 L277.03,292.52 L277.53,292.21 L278.03,291.89 L278.53,291.57 L279.04,291.27 L279.54,291.00 L280.04,290.76 L280.54,290.58 L281.05,290.46 L281.55,290.38 L282.05,290.47 L282.55,290.93 L283.05,291.17 L283.56,290.42 L284.06,288.22 L284.56,284.99 L285.06,282.11 L285.57,281.18 L286.07,282.74 L286.57,285.80 L287.07,288.45 L287.58,289.09 L288.08,287.03 L288.58,282.74 L289.08,277.86 L289.59,274.73 L290.09,275.00 L290.59,278.54 L291.09,283.51 L291.60,287.68 L292.10,289.64 L292.60,289.08 L293.10,286.63 L293.60,283.65 L294.11,281.74 L294.61,281.95 L295.11,284.08 L295.61,286.90 L296.12,289.23 L296.62,290.76 L297.12,291.89 L297.62,292.89 L298.13,293.67 L298.63,294.14 L299.13,294.33 L299.63,294.39 L313.70,294.40 L313.7,294.40" fill="#fff" stroke="#8a8a8a" stroke-width="0.85"/>
<path d="M250.4,308.50 L250.40,308.48 L250.90,308.48 L251.40,308.48 L251.91,308.48 L252.41,308.48 L252.91,308.48 L253.41,308.48 L253.92,308.47 L254.42,308.47 L254.92,308.47 L255.42,308.47 L255.93,308.47 L256.43,308.47 L256.93,308.47 L257.43,308.47 L257.94,308.47 L258.44,308.47 L258.94,308.47 L259.44,308.47 L259.95,308.47 L260.45,308.46 L260.95,308.46 L261.45,308.46 L261.95,308.46 L262.46,308.46 L262.96,308.46 L263.46,308.46 L263.96,308.46 L264.47,308.45 L264.97,308.45 L265.47,308.45 L265.97,308.45 L266.48,308.45 L266.98,308.45 L267.48,308.44 L267.98,308.44 L268.49,308.44 L268.99,308.44 L269.49,308.44 L269.99,308.43 L270.50,308.43 L271.00,308.43 L271.50,308.42 L272.00,308.42 L272.50,308.42 L273.01,308.41 L273.51,308.41 L274.01,308.41 L274.51,308.40 L275.02,308.40 L275.52,308.39 L276.02,308.38 L276.52,308.38 L277.03,308.37 L277.53,308.36 L278.03,308.36 L278.53,308.35 L279.04,308.34 L279.54,308.33 L280.04,308.32 L280.54,308.30 L281.05,308.29 L281.55,308.27 L282.05,308.26 L282.55,308.24 L283.05,308.22 L283.56,308.19 L284.06,308.16 L284.56,308.13 L285.06,308.10 L285.57,308.05 L286.07,308.01 L286.57,307.95 L287.07,307.88 L287.58,307.80 L288.08,307.71 L288.58,307.59 L289.08,307.44 L289.59,307.26 L290.09,307.03 L290.59,306.72 L291.09,306.32 L291.60,305.78 L292.10,305.01 L292.60,303.91 L293.10,302.28 L293.60,299.84 L294.11,296.27 L294.61,291.79 L295.11,288.34 L295.61,289.09 L296.12,294.33 L296.62,300.68 L297.12,305.24 L297.62,307.47 L298.13,308.25 L298.63,308.46 L299.13,308.49 L313.70,308.50 L313.7,308.50" fill="#fff" stroke="#8a8a8a" stroke-width="0.85"/>
<path d="M250.4,322.80 L250.40,322.78 L250.90,322.78 L251.40,322.78 L251.91,322.78 L252.41,322.78 L252.91,322.78 L253.41,322.78 L253.92,322.77 L254.42,322.77 L254.92,322.77 L255.42,322.77 L255.93,322.77 L256.43,322.77 L256.93,322.77 L257.43,322.77 L257.94,322.77 L258.44,322.77 L258.94,322.77 L259.44,322.77 L259.95,322.76 L260.45,322.76 L260.95,322.76 L261.45,322.76 L261.95,322.76 L262.46,322.76 L262.96,322.76 L263.46,322.76 L263.96,322.76 L264.47,322.75 L264.97,322.75 L265.47,322.75 L265.97,322.75 L266.48,322.75 L266.98,322.75 L267.48,322.74 L267.98,322.74 L268.49,322.74 L268.99,322.74 L269.49,322.73 L269.99,322.73 L270.50,322.73 L271.00,322.73 L271.50,322.72 L272.00,322.72 L272.50,322.72 L273.01,322.71 L273.51,322.71 L274.01,322.70 L274.51,322.70 L275.02,322.69 L275.52,322.69 L276.02,322.68 L276.52,322.67 L277.03,322.67 L277.53,322.66 L278.03,322.65 L278.53,322.64 L279.04,322.63 L279.54,322.62 L280.04,322.61 L280.54,322.60 L281.05,322.58 L281.55,322.56 L282.05,322.55 L282.55,322.53 L283.05,322.50 L283.56,322.48 L284.06,322.45 L284.56,322.41 L285.06,322.37 L285.57,322.33 L286.07,322.27 L286.57,322.21 L287.07,322.14 L287.58,322.05 L288.08,321.94 L288.58,321.80 L289.08,321.64 L289.59,321.43 L290.09,321.16 L290.59,320.80 L291.09,320.32 L291.60,319.65 L292.10,318.71 L292.60,317.32 L293.10,315.24 L293.60,312.16 L294.11,307.94 L294.61,303.69 L295.11,302.44 L295.61,306.17 L296.12,312.53 L296.62,318.00 L297.12,321.11 L297.62,322.35 L298.13,322.71 L298.63,322.79 L313.70,322.80 L313.7,322.80" fill="#fff" stroke="#8a8a8a" stroke-width="0.85"/>
<path d="M250.4,337.20 L250.40,337.18 L250.90,337.18 L251.40,337.18 L251.91,337.18 L252.41,337.18 L252.91,337.18 L253.41,337.17 L253.92,337.17 L254.42,337.17 L254.92,337.17 L255.42,337.17 L255.93,337.17 L256.43,337.17 L256.93,337.17 L257.43,337.17 L257.94,337.17 L258.44,337.17 L258.94,337.17 L259.44,337.17 L259.95,337.16 L260.45,337.16 L260.95,337.16 L261.45,337.16 L261.95,337.16 L262.46,337.16 L262.96,337.16 L263.46,337.16 L263.96,337.15 L264.47,337.15 L264.97,337.15 L265.47,337.15 L265.97,337.15 L266.48,337.15 L266.98,337.14 L267.48,337.14 L267.98,337.14 L268.49,337.14 L268.99,337.14 L269.49,337.13 L269.99,337.13 L270.50,337.13 L271.00,337.12 L271.50,337.12 L272.00,337.12 L272.50,337.11 L273.01,337.11 L273.51,337.11 L274.01,337.10 L274.51,337.10 L275.02,337.09 L275.52,337.08 L276.02,337.08 L276.52,337.07 L277.03,337.06 L277.53,337.06 L278.03,337.05 L278.53,337.04 L279.04,337.03 L279.54,337.02 L280.04,337.00 L280.54,336.99 L281.05,336.97 L281.55,336.96 L282.05,336.94 L282.55,336.92 L283.05,336.89 L283.56,336.86 L284.06,336.83 L284.56,336.80 L285.06,336.76 L285.57,336.71 L286.07,336.65 L286.57,336.58 L287.07,336.50 L287.58,336.41 L288.08,336.29 L288.58,336.14 L289.08,335.96 L289.59,335.73 L290.09,335.43 L290.59,335.03 L291.09,334.48 L291.60,333.72 L292.10,332.62 L292.60,330.99 L293.10,328.55 L293.60,324.99 L294.11,320.51 L294.61,317.05 L295.11,317.78 L295.61,323.00 L296.12,329.35 L296.62,333.92 L297.12,336.16 L297.62,336.95 L298.13,337.16 L298.63,337.19 L313.70,337.20 L313.7,337.20" fill="#fff" stroke="#8a8a8a" stroke-width="0.85"/>
<path d="M250.4,351.70 L250.40,351.69 L258.44,351.68 L258.94,351.68 L259.44,351.68 L259.95,351.68 L260.45,351.68 L260.95,351.68 L261.45,351.68 L261.95,351.68 L262.46,351.68 L262.96,351.67 L263.46,351.67 L263.96,351.67 L264.47,351.67 L264.97,351.67 L265.47,351.67 L265.97,351.67 L266.48,351.67 L266.98,351.67 L267.48,351.67 L267.98,351.66 L268.49,351.66 L268.99,351.66 L269.49,351.66 L269.99,351.66 L270.50,351.66 L271.00,351.65 L271.50,351.65 L272.00,351.65 L272.50,351.65 L273.01,351.64 L273.51,351.64 L274.01,351.64 L274.51,351.64 L275.02,351.63 L275.52,351.63 L276.02,351.62 L276.52,351.62 L277.03,351.62 L277.53,351.61 L278.03,351.60 L278.53,351.57 L279.04,351.51 L279.54,351.36 L280.04,351.10 L280.54,350.68 L281.05,350.18 L281.55,349.73 L282.05,349.48 L282.55,349.50 L283.05,349.63 L283.56,349.64 L284.06,349.33 L284.56,348.71 L285.06,348.01 L285.57,347.50 L286.07,347.20 L286.57,346.85 L287.07,346.10 L287.58,344.93 L288.08,343.77 L288.58,343.26 L289.08,343.80 L289.59,345.16 L290.09,346.76 L290.59,347.97 L291.09,348.48 L291.60,348.21 L292.10,347.15 L292.60,345.05 L293.10,341.37 L293.60,335.76 L294.11,331.25 L294.61,332.93 L295.11,338.70 L295.61,344.90 L296.12,349.01 L296.62,350.89 L297.12,351.52 L297.62,351.67 L298.13,351.70 L313.70,351.70 L313.7,351.70" fill="#fff" stroke="#8a8a8a" stroke-width="0.85"/>
<line x1="250.4" y1="256.7" x2="250.4" y2="351.7" stroke="#a8a8a8" stroke-width="0.9"/>
<line x1="313.7" y1="256.7" x2="313.7" y2="351.7" stroke="#a0a0a0" stroke-width="1"/>
<line x1="249.9" y1="256.7" x2="314.2" y2="256.7" stroke="#858585" stroke-width="1.3"/>
<line x1="249.9" y1="351.7" x2="314.2" y2="351.7" stroke="#5a5a5a" stroke-width="1.7"/>
<text transform="translate(265.8,361.7) scale(0.85,1)" font-size="7.9" text-anchor="middle" fill="#1a1a1a">10<tspan font-size="4.6" dy="-2.6">1</tspan></text>
<text transform="translate(281.7,361.7) scale(0.85,1)" font-size="7.9" text-anchor="middle" fill="#1a1a1a">10<tspan font-size="4.6" dy="-2.6">2</tspan></text>
<text transform="translate(297.5,361.7) scale(0.85,1)" font-size="7.9" text-anchor="middle" fill="#1a1a1a">10<tspan font-size="4.6" dy="-2.6">3</tspan></text>
<text transform="translate(313.3,361.7) scale(0.85,1)" font-size="7.9" text-anchor="middle" fill="#1a1a1a">10<tspan font-size="4.6" dy="-2.6">4</tspan></text>
<line x1="255.2" y1="352.3" x2="255.2" y2="353.5" stroke="#888" stroke-width="0.7"/>
<line x1="258.0" y1="352.3" x2="258.0" y2="353.5" stroke="#888" stroke-width="0.7"/>
<line x1="259.9" y1="352.3" x2="259.9" y2="353.5" stroke="#888" stroke-width="0.7"/>
<line x1="261.5" y1="352.3" x2="261.5" y2="353.5" stroke="#888" stroke-width="0.7"/>
<line x1="262.7" y1="352.3" x2="262.7" y2="353.5" stroke="#888" stroke-width="0.7"/>
<line x1="263.8" y1="352.3" x2="263.8" y2="353.5" stroke="#888" stroke-width="0.7"/>
<line x1="264.7" y1="352.3" x2="264.7" y2="353.5" stroke="#888" stroke-width="0.7"/>
<line x1="265.5" y1="352.3" x2="265.5" y2="353.5" stroke="#888" stroke-width="0.7"/>
<line x1="271.0" y1="352.3" x2="271.0" y2="353.5" stroke="#888" stroke-width="0.7"/>
<line x1="273.8" y1="352.3" x2="273.8" y2="353.5" stroke="#888" stroke-width="0.7"/>
<line x1="275.8" y1="352.3" x2="275.8" y2="353.5" stroke="#888" stroke-width="0.7"/>
<line x1="277.3" y1="352.3" x2="277.3" y2="353.5" stroke="#888" stroke-width="0.7"/>
<line x1="278.5" y1="352.3" x2="278.5" y2="353.5" stroke="#888" stroke-width="0.7"/>
<line x1="279.6" y1="352.3" x2="279.6" y2="353.5" stroke="#888" stroke-width="0.7"/>
<line x1="280.5" y1="352.3" x2="280.5" y2="353.5" stroke="#888" stroke-width="0.7"/>
<line x1="281.3" y1="352.3" x2="281.3" y2="353.5" stroke="#888" stroke-width="0.7"/>
<line x1="286.8" y1="352.3" x2="286.8" y2="353.5" stroke="#888" stroke-width="0.7"/>
<line x1="289.6" y1="352.3" x2="289.6" y2="353.5" stroke="#888" stroke-width="0.7"/>
<line x1="291.6" y1="352.3" x2="291.6" y2="353.5" stroke="#888" stroke-width="0.7"/>
<line x1="293.1" y1="352.3" x2="293.1" y2="353.5" stroke="#888" stroke-width="0.7"/>
<line x1="294.4" y1="352.3" x2="294.4" y2="353.5" stroke="#888" stroke-width="0.7"/>
<line x1="295.4" y1="352.3" x2="295.4" y2="353.5" stroke="#888" stroke-width="0.7"/>
<line x1="296.3" y1="352.3" x2="296.3" y2="353.5" stroke="#888" stroke-width="0.7"/>
<line x1="297.2" y1="352.3" x2="297.2" y2="353.5" stroke="#888" stroke-width="0.7"/>
<line x1="302.6" y1="352.3" x2="302.6" y2="353.5" stroke="#888" stroke-width="0.7"/>
<line x1="305.4" y1="352.3" x2="305.4" y2="353.5" stroke="#888" stroke-width="0.7"/>
<line x1="307.4" y1="352.3" x2="307.4" y2="353.5" stroke="#888" stroke-width="0.7"/>
<line x1="308.9" y1="352.3" x2="308.9" y2="353.5" stroke="#888" stroke-width="0.7"/>
<line x1="310.2" y1="352.3" x2="310.2" y2="353.5" stroke="#888" stroke-width="0.7"/>
<line x1="311.2" y1="352.3" x2="311.2" y2="353.5" stroke="#888" stroke-width="0.7"/>
<line x1="312.2" y1="352.3" x2="312.2" y2="353.5" stroke="#888" stroke-width="0.7"/>
<line x1="313.0" y1="352.3" x2="313.0" y2="353.5" stroke="#888" stroke-width="0.7"/>
<text x="326.4" y="305.09999999999997" font-size="10.4" text-anchor="middle" font-weight="normal" fill="#1a1a1a" >93</text>
<text x="326.4" y="317.7" font-size="10.4" text-anchor="middle" font-weight="normal" fill="#1a1a1a" >91</text>
<text x="326.4" y="331.7" font-size="10.4" text-anchor="middle" font-weight="normal" fill="#1a1a1a" >88</text>
<text x="326.4" y="348.5" font-size="10.4" text-anchor="middle" font-weight="normal" fill="#1a1a1a" >39</text>
<path d="M335.7,280.30 L335.70,280.28 L336.20,280.28 L336.70,280.28 L337.21,280.28 L337.71,280.28 L338.21,280.28 L338.71,280.27 L339.22,280.27 L339.72,280.27 L340.22,280.27 L340.72,280.27 L341.23,280.27 L341.73,280.27 L342.23,280.27 L342.73,280.27 L343.24,280.27 L343.74,280.27 L344.24,280.27 L344.74,280.27 L345.25,280.27 L345.75,280.26 L346.25,280.26 L346.75,280.26 L347.25,280.26 L347.76,280.26 L348.26,280.26 L348.76,280.26 L349.26,280.26 L349.77,280.25 L350.27,280.25 L350.77,280.25 L351.27,280.25 L351.78,280.25 L352.28,280.25 L352.78,280.24 L353.28,280.24 L353.79,280.24 L354.29,280.24 L354.79,280.24 L355.29,280.23 L355.80,280.23 L356.30,280.23 L356.80,280.23 L357.30,280.22 L357.80,280.22 L358.31,280.22 L358.81,280.21 L359.31,280.21 L359.81,280.20 L360.32,280.20 L360.82,280.20 L361.32,280.19 L361.82,280.18 L362.33,280.18 L362.83,280.17 L363.33,280.17 L363.83,280.16 L364.34,280.15 L364.84,280.14 L365.34,280.13 L365.84,280.12 L366.35,280.11 L366.85,280.10 L367.35,280.08 L367.85,280.07 L368.35,280.05 L368.86,280.03 L369.36,280.01 L369.86,279.98 L370.36,279.95 L370.87,279.92 L371.37,279.89 L371.87,279.84 L372.37,279.80 L372.88,279.74 L373.38,279.67 L373.88,279.60 L374.38,279.50 L374.89,279.39 L375.39,279.25 L375.89,279.08 L376.39,278.86 L376.90,278.59 L377.40,278.22 L377.90,277.74 L378.40,277.07 L378.90,276.13 L379.41,274.77 L379.91,272.77 L380.41,269.82 L380.91,265.77 L381.42,261.46 L381.92,259.50 L382.42,261.53 L382.92,266.31 L383.43,271.68 L383.93,275.91 L384.43,278.45 L384.93,279.66 L385.44,280.12 L385.94,280.26 L386.44,280.29 L399.00,280.30 L399.0,280.30" fill="#fff" stroke="#8a8a8a" stroke-width="0.85"/>
<path d="M335.7,294.40 L335.70,294.40 L354.29,294.39 L354.79,294.38 L355.29,294.37 L355.80,294.35 L356.30,294.32 L356.80,294.29 L357.30,294.25 L357.80,294.19 L358.31,294.11 L358.81,294.01 L359.31,293.88 L359.81,293.73 L360.32,293.55 L360.82,293.33 L361.32,293.09 L361.82,292.82 L362.33,292.52 L362.83,292.21 L363.33,291.89 L363.83,291.57 L364.34,291.27 L364.84,291.00 L365.34,290.76 L365.84,290.58 L366.35,290.46 L366.85,290.38 L367.35,290.47 L367.85,290.93 L368.35,291.17 L368.86,290.42 L369.36,288.22 L369.86,284.99 L370.36,282.11 L370.87,281.18 L371.37,282.74 L371.87,285.80 L372.37,288.45 L372.88,289.09 L373.38,287.03 L373.88,282.74 L374.38,277.86 L374.89,274.73 L375.39,275.00 L375.89,278.54 L376.39,283.51 L376.90,287.68 L377.40,289.64 L377.90,289.08 L378.40,286.63 L378.90,283.65 L379.41,281.74 L379.91,281.95 L380.41,284.08 L380.91,286.90 L381.42,289.23 L381.92,290.76 L382.42,291.89 L382.92,292.89 L383.43,293.67 L383.93,294.14 L384.43,294.33 L384.93,294.39 L399.00,294.40 L399.0,294.40" fill="#fff" stroke="#8a8a8a" stroke-width="0.85"/>
<path d="M335.7,308.50 L335.70,308.48 L336.20,308.48 L336.70,308.48 L337.21,308.48 L337.71,308.48 L338.21,308.48 L338.71,308.48 L339.22,308.47 L339.72,308.47 L340.22,308.47 L340.72,308.47 L341.23,308.47 L341.73,308.47 L342.23,308.47 L342.73,308.47 L343.24,308.47 L343.74,308.47 L344.24,308.47 L344.74,308.47 L345.25,308.47 L345.75,308.46 L346.25,308.46 L346.75,308.46 L347.25,308.46 L347.76,308.46 L348.26,308.46 L348.76,308.46 L349.26,308.46 L349.77,308.45 L350.27,308.45 L350.77,308.45 L351.27,308.45 L351.78,308.45 L352.28,308.45 L352.78,308.44 L353.28,308.44 L353.79,308.44 L354.29,308.44 L354.79,308.44 L355.29,308.43 L355.80,308.43 L356.30,308.43 L356.80,308.42 L357.30,308.42 L357.80,308.42 L358.31,308.41 L358.81,308.41 L359.31,308.41 L359.81,308.40 L360.32,308.40 L360.82,308.39 L361.32,308.38 L361.82,308.38 L362.33,308.37 L362.83,308.36 L363.33,308.36 L363.83,308.35 L364.34,308.34 L364.84,308.33 L365.34,308.32 L365.84,308.30 L366.35,308.29 L366.85,308.27 L367.35,308.26 L367.85,308.24 L368.35,308.22 L368.86,308.19 L369.36,308.16 L369.86,308.13 L370.36,308.10 L370.87,308.05 L371.37,308.01 L371.87,307.95 L372.37,307.88 L372.88,307.80 L373.38,307.71 L373.88,307.59 L374.38,307.44 L374.89,307.26 L375.39,307.03 L375.89,306.72 L376.39,306.32 L376.90,305.78 L377.40,305.01 L377.90,303.91 L378.40,302.28 L378.90,299.84 L379.41,296.27 L379.91,291.79 L380.41,288.34 L380.91,289.09 L381.42,294.33 L381.92,300.68 L382.42,305.24 L382.92,307.47 L383.43,308.25 L383.93,308.46 L384.43,308.49 L399.00,308.50 L399.0,308.50" fill="#fff" stroke="#8a8a8a" stroke-width="0.85"/>
<path d="M335.7,322.80 L335.70,322.78 L336.20,322.78 L336.70,322.78 L337.21,322.78 L337.71,322.78 L338.21,322.78 L338.71,322.78 L339.22,322.77 L339.72,322.77 L340.22,322.77 L340.72,322.77 L341.23,322.77 L341.73,322.77 L342.23,322.77 L342.73,322.77 L343.24,322.77 L343.74,322.77 L344.24,322.77 L344.74,322.77 L345.25,322.77 L345.75,322.76 L346.25,322.76 L346.75,322.76 L347.25,322.76 L347.76,322.76 L348.26,322.76 L348.76,322.76 L349.26,322.76 L349.77,322.75 L350.27,322.75 L350.77,322.75 L351.27,322.75 L351.78,322.75 L352.28,322.75 L352.78,322.74 L353.28,322.74 L353.79,322.74 L354.29,322.74 L354.79,322.73 L355.29,322.73 L355.80,322.73 L356.30,322.73 L356.80,322.72 L357.30,322.72 L357.80,322.72 L358.31,322.71 L358.81,322.71 L359.31,322.70 L359.81,322.70 L360.32,322.69 L360.82,322.69 L361.32,322.68 L361.82,322.68 L362.33,322.67 L362.83,322.66 L363.33,322.65 L363.83,322.64 L364.34,322.63 L364.84,322.62 L365.34,322.61 L365.84,322.60 L366.35,322.58 L366.85,322.57 L367.35,322.55 L367.85,322.53 L368.35,322.51 L368.86,322.48 L369.36,322.45 L369.86,322.42 L370.36,322.38 L370.87,322.34 L371.37,322.28 L371.87,322.22 L372.37,322.15 L372.88,322.07 L373.38,321.96 L373.88,321.83 L374.38,321.67 L374.89,321.47 L375.39,321.22 L375.89,320.88 L376.39,320.43 L376.90,319.80 L377.40,318.92 L377.90,317.64 L378.40,315.73 L378.90,312.86 L379.41,308.84 L379.91,304.40 L380.41,302.30 L380.91,305.09 L381.42,311.24 L381.92,317.09 L382.42,320.67 L382.92,322.20 L383.43,322.67 L383.93,322.78 L384.43,322.80 L399.00,322.80 L399.0,322.80" fill="#fff" stroke="#8a8a8a" stroke-width="0.85"/>
<path d="M335.7,337.20 L335.70,337.18 L336.20,337.18 L336.70,337.18 L337.21,337.18 L337.71,337.18 L338.21,337.18 L338.71,337.18 L339.22,337.17 L339.72,337.17 L340.22,337.17 L340.72,337.17 L341.23,337.17 L341.73,337.17 L342.23,337.17 L342.73,337.17 L343.24,337.17 L343.74,337.17 L344.24,337.17 L344.74,337.17 L345.25,337.16 L345.75,337.16 L346.25,337.16 L346.75,337.16 L347.25,337.16 L347.76,337.16 L348.26,337.16 L348.76,337.16 L349.26,337.16 L349.77,337.15 L350.27,337.15 L350.77,337.15 L351.27,337.15 L351.78,337.15 L352.28,337.15 L352.78,337.14 L353.28,337.14 L353.79,337.14 L354.29,337.14 L354.79,337.13 L355.29,337.13 L355.80,337.13 L356.30,337.13 L356.80,337.12 L357.30,337.12 L357.80,337.12 L358.31,337.11 L358.81,337.11 L359.31,337.10 L359.81,337.10 L360.32,337.09 L360.82,337.09 L361.32,337.08 L361.82,337.07 L362.33,337.07 L362.83,337.06 L363.33,337.05 L363.83,337.04 L364.34,337.03 L364.84,337.02 L365.34,337.01 L365.84,337.00 L366.35,336.98 L366.85,336.96 L367.35,336.95 L367.85,336.93 L368.35,336.90 L368.86,336.88 L369.36,336.85 L369.86,336.81 L370.36,336.77 L370.87,336.73 L371.37,336.67 L371.87,336.61 L372.37,336.54 L372.88,336.45 L373.38,336.34 L373.88,336.20 L374.38,336.04 L374.89,335.83 L375.39,335.56 L375.89,335.20 L376.39,334.72 L376.90,334.05 L377.40,333.11 L377.90,331.72 L378.40,329.64 L378.90,326.56 L379.41,322.34 L379.91,318.09 L380.41,316.84 L380.91,320.57 L381.42,326.93 L381.92,332.40 L382.42,335.51 L382.92,336.75 L383.43,337.11 L383.93,337.19 L399.00,337.20 L399.0,337.20" fill="#fff" stroke="#8a8a8a" stroke-width="0.85"/>
<path d="M335.7,351.70 L335.70,351.69 L350.77,351.68 L351.27,351.68 L351.78,351.68 L352.28,351.68 L352.78,351.68 L353.28,351.68 L353.79,351.68 L354.29,351.67 L354.79,351.67 L355.29,351.67 L355.80,351.67 L356.30,351.67 L356.80,351.66 L357.30,351.65 L357.80,351.61 L358.31,351.49 L358.81,351.23 L359.31,350.73 L359.81,349.99 L360.32,349.12 L360.82,348.39 L361.32,348.06 L361.82,348.19 L362.33,348.49 L362.83,348.51 L363.33,347.92 L363.83,346.79 L364.34,345.63 L364.84,345.08 L365.34,345.50 L365.84,346.74 L366.35,348.21 L366.85,349.25 L367.35,349.37 L367.85,348.29 L368.35,346.07 L368.86,343.19 L369.36,340.65 L369.86,339.51 L370.36,340.29 L370.87,342.52 L371.37,345.03 L371.87,346.51 L372.37,346.04 L372.88,343.32 L373.38,338.91 L373.88,334.28 L374.38,331.33 L374.89,331.41 L375.39,334.42 L375.89,338.90 L376.39,343.06 L376.90,345.70 L377.40,346.43 L377.90,345.25 L378.40,342.27 L378.90,339.06 L379.41,339.35 L379.91,342.66 L380.41,346.69 L380.91,349.60 L381.42,351.04 L381.92,351.54 L382.42,351.67 L382.92,351.70 L399.00,351.70 L399.0,351.70" fill="#fff" stroke="#8a8a8a" stroke-width="0.85"/>
<line x1="335.7" y1="256.7" x2="335.7" y2="351.7" stroke="#a8a8a8" stroke-width="0.9"/>
<line x1="399.0" y1="256.7" x2="399.0" y2="351.7" stroke="#a0a0a0" stroke-width="1"/>
<line x1="335.2" y1="256.7" x2="399.5" y2="256.7" stroke="#858585" stroke-width="1.3"/>
<line x1="335.2" y1="351.7" x2="399.5" y2="351.7" stroke="#5a5a5a" stroke-width="1.7"/>
<text transform="translate(351.1,361.7) scale(0.85,1)" font-size="7.9" text-anchor="middle" fill="#1a1a1a">10<tspan font-size="4.6" dy="-2.6">1</tspan></text>
<text transform="translate(366.9,361.7) scale(0.85,1)" font-size="7.9" text-anchor="middle" fill="#1a1a1a">10<tspan font-size="4.6" dy="-2.6">2</tspan></text>
<text transform="translate(382.8,361.7) scale(0.85,1)" font-size="7.9" text-anchor="middle" fill="#1a1a1a">10<tspan font-size="4.6" dy="-2.6">3</tspan></text>
<text transform="translate(398.6,361.7) scale(0.85,1)" font-size="7.9" text-anchor="middle" fill="#1a1a1a">10<tspan font-size="4.6" dy="-2.6">4</tspan></text>
<line x1="340.5" y1="352.3" x2="340.5" y2="353.5" stroke="#888" stroke-width="0.7"/>
<line x1="343.3" y1="352.3" x2="343.3" y2="353.5" stroke="#888" stroke-width="0.7"/>
<line x1="345.2" y1="352.3" x2="345.2" y2="353.5" stroke="#888" stroke-width="0.7"/>
<line x1="346.8" y1="352.3" x2="346.8" y2="353.5" stroke="#888" stroke-width="0.7"/>
<line x1="348.0" y1="352.3" x2="348.0" y2="353.5" stroke="#888" stroke-width="0.7"/>
<line x1="349.1" y1="352.3" x2="349.1" y2="353.5" stroke="#888" stroke-width="0.7"/>
<line x1="350.0" y1="352.3" x2="350.0" y2="353.5" stroke="#888" stroke-width="0.7"/>
<line x1="350.8" y1="352.3" x2="350.8" y2="353.5" stroke="#888" stroke-width="0.7"/>
<line x1="356.3" y1="352.3" x2="356.3" y2="353.5" stroke="#888" stroke-width="0.7"/>
<line x1="359.1" y1="352.3" x2="359.1" y2="353.5" stroke="#888" stroke-width="0.7"/>
<line x1="361.1" y1="352.3" x2="361.1" y2="353.5" stroke="#888" stroke-width="0.7"/>
<line x1="362.6" y1="352.3" x2="362.6" y2="353.5" stroke="#888" stroke-width="0.7"/>
<line x1="363.8" y1="352.3" x2="363.8" y2="353.5" stroke="#888" stroke-width="0.7"/>
<line x1="364.9" y1="352.3" x2="364.9" y2="353.5" stroke="#888" stroke-width="0.7"/>
<line x1="365.8" y1="352.3" x2="365.8" y2="353.5" stroke="#888" stroke-width="0.7"/>
<line x1="366.6" y1="352.3" x2="366.6" y2="353.5" stroke="#888" stroke-width="0.7"/>
<line x1="372.1" y1="352.3" x2="372.1" y2="353.5" stroke="#888" stroke-width="0.7"/>
<line x1="374.9" y1="352.3" x2="374.9" y2="353.5" stroke="#888" stroke-width="0.7"/>
<line x1="376.9" y1="352.3" x2="376.9" y2="353.5" stroke="#888" stroke-width="0.7"/>
<line x1="378.4" y1="352.3" x2="378.4" y2="353.5" stroke="#888" stroke-width="0.7"/>
<line x1="379.7" y1="352.3" x2="379.7" y2="353.5" stroke="#888" stroke-width="0.7"/>
<line x1="380.7" y1="352.3" x2="380.7" y2="353.5" stroke="#888" stroke-width="0.7"/>
<line x1="381.6" y1="352.3" x2="381.6" y2="353.5" stroke="#888" stroke-width="0.7"/>
<line x1="382.5" y1="352.3" x2="382.5" y2="353.5" stroke="#888" stroke-width="0.7"/>
<line x1="387.9" y1="352.3" x2="387.9" y2="353.5" stroke="#888" stroke-width="0.7"/>
<line x1="390.7" y1="352.3" x2="390.7" y2="353.5" stroke="#888" stroke-width="0.7"/>
<line x1="392.7" y1="352.3" x2="392.7" y2="353.5" stroke="#888" stroke-width="0.7"/>
<line x1="394.2" y1="352.3" x2="394.2" y2="353.5" stroke="#888" stroke-width="0.7"/>
<line x1="395.5" y1="352.3" x2="395.5" y2="353.5" stroke="#888" stroke-width="0.7"/>
<line x1="396.5" y1="352.3" x2="396.5" y2="353.5" stroke="#888" stroke-width="0.7"/>
<line x1="397.5" y1="352.3" x2="397.5" y2="353.5" stroke="#888" stroke-width="0.7"/>
<line x1="398.3" y1="352.3" x2="398.3" y2="353.5" stroke="#888" stroke-width="0.7"/>
<text x="409.0" y="305.09999999999997" font-size="10.4" text-anchor="middle" font-weight="normal" fill="#1a1a1a" >88</text>
<text x="409.0" y="317.7" font-size="10.4" text-anchor="middle" font-weight="normal" fill="#1a1a1a" >72</text>
<text x="409.0" y="331.7" font-size="10.4" text-anchor="middle" font-weight="normal" fill="#1a1a1a" >70</text>
<text x="409.0" y="348.5" font-size="10.4" text-anchor="middle" font-weight="normal" fill="#1a1a1a" >-16</text>
<text x="429.7" y="274.5" font-size="8.7" text-anchor="start" font-weight="normal" fill="#1a1a1a" >No Stimulation</text>
<text x="429.7" y="289.9" font-size="8.7" text-anchor="start" font-weight="normal" fill="#1a1a1a" >No Treg</text>
<text x="429.7" y="304.4" font-size="8.7" text-anchor="start" font-weight="normal" fill="#1a1a1a" >4: 1 Teff:Treg</text>
<text x="429.7" y="317.3" font-size="8.7" text-anchor="start" font-weight="normal" fill="#1a1a1a" >8: 1 Teff:Treg</text>
<text x="429.7" y="330.8" font-size="8.7" text-anchor="start" font-weight="normal" fill="#1a1a1a" >16: 1 Teff:Treg</text>
<text x="429.7" y="348.3" font-size="8.7" text-anchor="start" font-weight="normal" fill="#1a1a1a" >32: 1 Teff:Treg</text>
<text x="1.0" y="424.8" font-size="10.3" text-anchor="start" font-weight="normal" fill="#1a1a1a" >Teff (a11b6)</text>
<path d="M78.0,391.40 L78.00,391.38 L78.50,391.38 L79.00,391.38 L79.51,391.38 L80.01,391.38 L80.51,391.38 L81.01,391.37 L81.52,391.37 L82.02,391.37 L82.52,391.37 L83.02,391.37 L83.53,391.37 L84.03,391.37 L84.53,391.37 L85.03,391.37 L85.54,391.37 L86.04,391.37 L86.54,391.37 L87.04,391.37 L87.55,391.36 L88.05,391.36 L88.55,391.36 L89.05,391.36 L89.55,391.36 L90.06,391.36 L90.56,391.36 L91.06,391.36 L91.56,391.36 L92.07,391.35 L92.57,391.35 L93.07,391.35 L93.57,391.35 L94.08,391.35 L94.58,391.35 L95.08,391.34 L95.58,391.34 L96.09,391.34 L96.59,391.34 L97.09,391.34 L97.59,391.33 L98.10,391.33 L98.60,391.33 L99.10,391.32 L99.60,391.32 L100.10,391.32 L100.61,391.31 L101.11,391.31 L101.61,391.31 L102.11,391.30 L102.62,391.30 L103.12,391.29 L103.62,391.29 L104.12,391.28 L104.63,391.28 L105.13,391.27 L105.63,391.26 L106.13,391.25 L106.64,391.25 L107.14,391.24 L107.64,391.23 L108.14,391.22 L108.65,391.20 L109.15,391.19 L109.65,391.18 L110.15,391.16 L110.65,391.14 L111.16,391.12 L111.66,391.10 L112.16,391.07 L112.66,391.04 L113.17,391.01 L113.67,390.97 L114.17,390.93 L114.67,390.88 L115.18,390.82 L115.68,390.75 L116.18,390.66 L116.68,390.56 L117.19,390.44 L117.69,390.29 L118.19,390.10 L118.69,389.86 L119.20,389.55 L119.70,389.15 L120.20,388.60 L120.70,387.83 L121.20,386.75 L121.71,385.17 L122.21,382.82 L122.71,379.43 L123.21,375.08 L123.72,371.32 L124.22,370.97 L124.72,374.32 L125.22,379.59 L125.73,384.66 L126.23,388.22 L126.73,390.16 L127.23,391.00 L127.74,391.29 L128.24,391.38 L128.74,391.40 L141.30,391.40 L141.3,391.40" fill="#fff" stroke="#8a8a8a" stroke-width="0.85"/>
<path d="M78.0,405.60 L78.00,405.60 L97.09,405.58 L97.59,405.57 L98.10,405.56 L98.60,405.53 L99.10,405.51 L99.60,405.47 L100.10,405.41 L100.61,405.34 L101.11,405.25 L101.61,405.14 L102.11,404.99 L102.62,404.82 L103.12,404.62 L103.62,404.39 L104.12,404.13 L104.63,403.84 L105.13,403.54 L105.63,403.22 L106.13,402.90 L106.64,402.59 L107.14,402.30 L107.64,402.05 L108.14,401.85 L108.65,401.70 L109.15,401.61 L109.65,401.58 L110.15,401.93 L110.65,402.35 L111.16,402.08 L111.66,400.47 L112.16,397.53 L112.66,394.30 L113.17,392.45 L113.67,393.05 L114.17,395.72 L114.67,398.76 L115.18,400.35 L115.68,399.37 L116.18,395.83 L116.68,390.93 L117.19,386.83 L117.69,385.65 L118.19,388.03 L118.69,392.71 L119.20,397.43 L119.70,400.37 L120.20,400.78 L120.70,398.96 L121.20,396.00 L121.71,393.48 L122.21,392.79 L122.71,394.27 L123.21,396.98 L123.72,399.60 L124.22,401.43 L124.72,402.67 L125.22,403.71 L125.73,404.60 L126.23,405.19 L126.73,405.47 L127.23,405.57 L127.74,405.60 L141.30,405.60 L141.3,405.60" fill="#fff" stroke="#8a8a8a" stroke-width="0.85"/>
<path d="M78.0,420.10 L78.00,420.08 L78.50,420.08 L79.00,420.08 L79.51,420.08 L80.01,420.08 L80.51,420.08 L81.01,420.08 L81.52,420.07 L82.02,420.07 L82.52,420.07 L83.02,420.07 L83.53,420.07 L84.03,420.07 L84.53,420.07 L85.03,420.07 L85.54,420.07 L86.04,420.07 L86.54,420.07 L87.04,420.07 L87.55,420.07 L88.05,420.06 L88.55,420.06 L89.05,420.06 L89.55,420.06 L90.06,420.06 L90.56,420.06 L91.06,420.06 L91.56,420.06 L92.07,420.05 L92.57,420.05 L93.07,420.05 L93.57,420.05 L94.08,420.05 L94.58,420.05 L95.08,420.04 L95.58,420.04 L96.09,420.04 L96.59,420.04 L97.09,420.03 L97.59,420.03 L98.10,420.03 L98.60,420.03 L99.10,420.02 L99.60,420.02 L100.10,420.02 L100.61,420.01 L101.11,420.01 L101.61,420.00 L102.11,420.00 L102.62,419.99 L103.12,419.99 L103.62,419.98 L104.12,419.98 L104.63,419.97 L105.13,419.96 L105.63,419.95 L106.13,419.94 L106.64,419.93 L107.14,419.92 L107.64,419.91 L108.14,419.90 L108.65,419.88 L109.15,419.87 L109.65,419.85 L110.15,419.83 L110.65,419.81 L111.16,419.78 L111.66,419.75 L112.16,419.72 L112.66,419.68 L113.17,419.64 L113.67,419.58 L114.17,419.52 L114.67,419.45 L115.18,419.37 L115.68,419.26 L116.18,419.13 L116.68,418.97 L117.19,418.77 L117.69,418.52 L118.19,418.18 L118.69,417.73 L119.20,417.10 L119.70,416.22 L120.20,414.94 L120.70,413.03 L121.20,410.16 L121.71,406.14 L122.21,401.70 L122.71,399.60 L123.21,402.39 L123.72,408.54 L124.22,414.39 L124.72,417.97 L125.22,419.50 L125.73,419.97 L126.23,420.08 L126.73,420.10 L141.30,420.10 L141.3,420.10" fill="#fff" stroke="#8a8a8a" stroke-width="0.85"/>
<path d="M78.0,434.10 L78.00,434.08 L78.50,434.08 L79.00,434.08 L79.51,434.08 L80.01,434.08 L80.51,434.08 L81.01,434.08 L81.52,434.07 L82.02,434.07 L82.52,434.07 L83.02,434.07 L83.53,434.07 L84.03,434.07 L84.53,434.07 L85.03,434.07 L85.54,434.07 L86.04,434.07 L86.54,434.07 L87.04,434.07 L87.55,434.06 L88.05,434.06 L88.55,434.06 L89.05,434.06 L89.55,434.06 L90.06,434.06 L90.56,434.06 L91.06,434.06 L91.56,434.06 L92.07,434.05 L92.57,434.05 L93.07,434.05 L93.57,434.05 L94.08,434.05 L94.58,434.05 L95.08,434.04 L95.58,434.04 L96.09,434.04 L96.59,434.04 L97.09,434.03 L97.59,434.03 L98.10,434.03 L98.60,434.03 L99.10,434.02 L99.60,434.02 L100.10,434.02 L100.61,434.01 L101.11,434.01 L101.61,434.00 L102.11,434.00 L102.62,433.99 L103.12,433.99 L103.62,433.98 L104.12,433.97 L104.63,433.97 L105.13,433.96 L105.63,433.95 L106.13,433.94 L106.64,433.93 L107.14,433.92 L107.64,433.91 L108.14,433.90 L108.65,433.88 L109.15,433.86 L109.65,433.85 L110.15,433.83 L110.65,433.80 L111.16,433.78 L111.66,433.75 L112.16,433.71 L112.66,433.67 L113.17,433.63 L113.67,433.57 L114.17,433.51 L114.67,433.44 L115.18,433.35 L115.68,433.24 L116.18,433.10 L116.68,432.94 L117.19,432.73 L117.69,432.46 L118.19,432.10 L118.69,431.62 L119.20,430.95 L119.70,430.01 L120.20,428.62 L120.70,426.54 L121.20,423.46 L121.71,419.24 L122.21,414.99 L122.71,413.74 L123.21,417.47 L123.72,423.83 L124.22,429.30 L124.72,432.41 L125.22,433.65 L125.73,434.01 L126.23,434.09 L141.30,434.10 L141.3,434.10" fill="#fff" stroke="#8a8a8a" stroke-width="0.85"/>
<path d="M78.0,448.30 L78.00,448.28 L78.50,448.28 L79.00,448.28 L79.51,448.28 L80.01,448.28 L80.51,448.28 L81.01,448.27 L81.52,448.27 L82.02,448.27 L82.52,448.27 L83.02,448.27 L83.53,448.27 L84.03,448.27 L84.53,448.27 L85.03,448.27 L85.54,448.27 L86.04,448.27 L86.54,448.27 L87.04,448.27 L87.55,448.26 L88.05,448.26 L88.55,448.26 L89.05,448.26 L89.55,448.26 L90.06,448.26 L90.56,448.26 L91.06,448.26 L91.56,448.26 L92.07,448.25 L92.57,448.25 L93.07,448.25 L93.57,448.25 L94.08,448.25 L94.58,448.24 L95.08,448.24 L95.58,448.24 L96.09,448.24 L96.59,448.24 L97.09,448.23 L97.59,448.23 L98.10,448.23 L98.60,448.22 L99.10,448.22 L99.60,448.22 L100.10,448.21 L100.61,448.21 L101.11,448.21 L101.61,448.20 L102.11,448.20 L102.62,448.19 L103.12,448.19 L103.62,448.18 L104.12,448.17 L104.63,448.17 L105.13,448.16 L105.63,448.15 L106.13,448.14 L106.64,448.13 L107.14,448.12 L107.64,448.11 L108.14,448.09 L108.65,448.08 L109.15,448.06 L109.65,448.04 L110.15,448.02 L110.65,448.00 L111.16,447.97 L111.66,447.94 L112.16,447.90 L112.66,447.86 L113.17,447.82 L113.67,447.76 L114.17,447.70 L114.67,447.62 L115.18,447.53 L115.68,447.41 L116.18,447.27 L116.68,447.10 L117.19,446.88 L117.69,446.59 L118.19,446.22 L118.69,445.70 L119.20,444.99 L119.70,443.97 L120.20,442.47 L120.70,440.22 L121.20,436.90 L121.71,432.52 L122.21,428.59 L122.71,428.30 L123.21,432.85 L123.72,439.27 L124.22,444.31 L124.72,446.97 L125.22,447.96 L125.73,448.24 L126.23,448.29 L141.30,448.30 L141.3,448.30" fill="#fff" stroke="#8a8a8a" stroke-width="0.85"/>
<path d="M78.0,462.80 L78.00,462.79 L87.04,462.78 L87.55,462.78 L88.05,462.78 L88.55,462.78 L89.05,462.78 L89.55,462.78 L90.06,462.78 L90.56,462.78 L91.06,462.77 L91.56,462.77 L92.07,462.77 L92.57,462.77 L93.07,462.77 L93.57,462.77 L94.08,462.77 L94.58,462.77 L95.08,462.77 L95.58,462.77 L96.09,462.76 L96.59,462.76 L97.09,462.76 L97.59,462.76 L98.10,462.76 L98.60,462.76 L99.10,462.75 L99.60,462.75 L100.10,462.75 L100.61,462.75 L101.11,462.74 L101.61,462.74 L102.11,462.74 L102.62,462.72 L103.12,462.68 L103.62,462.57 L104.12,462.32 L104.63,461.86 L105.13,461.17 L105.63,460.38 L106.13,459.73 L106.64,459.50 L107.14,459.78 L107.64,460.41 L108.14,461.07 L108.65,461.39 L109.15,461.06 L109.65,459.91 L110.15,457.99 L110.65,455.72 L111.16,453.89 L111.66,453.27 L112.16,454.12 L112.66,455.92 L113.17,457.69 L113.67,458.43 L114.17,457.60 L114.67,455.27 L115.18,452.20 L115.68,449.67 L116.18,448.87 L116.68,450.16 L117.19,452.92 L117.69,455.96 L118.19,458.32 L118.69,459.59 L119.20,459.87 L119.70,459.34 L120.20,458.04 L120.70,455.68 L121.20,451.64 L121.71,445.89 L122.21,442.50 L122.71,445.24 L123.21,451.32 L123.72,457.12 L124.22,460.68 L124.72,462.20 L125.22,462.67 L125.73,462.78 L126.23,462.80 L141.30,462.80 L141.3,462.80" fill="#fff" stroke="#8a8a8a" stroke-width="0.85"/>
<line x1="78.0" y1="368.4" x2="78.0" y2="462.8" stroke="#a8a8a8" stroke-width="0.9"/>
<line x1="141.3" y1="368.4" x2="141.3" y2="462.8" stroke="#a0a0a0" stroke-width="1"/>
<line x1="77.5" y1="368.4" x2="141.8" y2="368.4" stroke="#858585" stroke-width="1.3"/>
<line x1="77.5" y1="462.8" x2="141.8" y2="462.8" stroke="#5a5a5a" stroke-width="1.7"/>
<text transform="translate(93.4,472.8) scale(0.85,1)" font-size="7.9" text-anchor="middle" fill="#1a1a1a">10<tspan font-size="4.6" dy="-2.6">1</tspan></text>
<text transform="translate(109.2,472.8) scale(0.85,1)" font-size="7.9" text-anchor="middle" fill="#1a1a1a">10<tspan font-size="4.6" dy="-2.6">2</tspan></text>
<text transform="translate(125.1,472.8) scale(0.85,1)" font-size="7.9" text-anchor="middle" fill="#1a1a1a">10<tspan font-size="4.6" dy="-2.6">3</tspan></text>
<text transform="translate(140.9,472.8) scale(0.85,1)" font-size="7.9" text-anchor="middle" fill="#1a1a1a">10<tspan font-size="4.6" dy="-2.6">4</tspan></text>
<line x1="82.8" y1="463.4" x2="82.8" y2="464.6" stroke="#888" stroke-width="0.7"/>
<line x1="85.6" y1="463.4" x2="85.6" y2="464.6" stroke="#888" stroke-width="0.7"/>
<line x1="87.5" y1="463.4" x2="87.5" y2="464.6" stroke="#888" stroke-width="0.7"/>
<line x1="89.1" y1="463.4" x2="89.1" y2="464.6" stroke="#888" stroke-width="0.7"/>
<line x1="90.3" y1="463.4" x2="90.3" y2="464.6" stroke="#888" stroke-width="0.7"/>
<line x1="91.4" y1="463.4" x2="91.4" y2="464.6" stroke="#888" stroke-width="0.7"/>
<line x1="92.3" y1="463.4" x2="92.3" y2="464.6" stroke="#888" stroke-width="0.7"/>
<line x1="93.1" y1="463.4" x2="93.1" y2="464.6" stroke="#888" stroke-width="0.7"/>
<line x1="98.6" y1="463.4" x2="98.6" y2="464.6" stroke="#888" stroke-width="0.7"/>
<line x1="101.4" y1="463.4" x2="101.4" y2="464.6" stroke="#888" stroke-width="0.7"/>
<line x1="103.4" y1="463.4" x2="103.4" y2="464.6" stroke="#888" stroke-width="0.7"/>
<line x1="104.9" y1="463.4" x2="104.9" y2="464.6" stroke="#888" stroke-width="0.7"/>
<line x1="106.1" y1="463.4" x2="106.1" y2="464.6" stroke="#888" stroke-width="0.7"/>
<line x1="107.2" y1="463.4" x2="107.2" y2="464.6" stroke="#888" stroke-width="0.7"/>
<line x1="108.1" y1="463.4" x2="108.1" y2="464.6" stroke="#888" stroke-width="0.7"/>
<line x1="108.9" y1="463.4" x2="108.9" y2="464.6" stroke="#888" stroke-width="0.7"/>
<line x1="114.4" y1="463.4" x2="114.4" y2="464.6" stroke="#888" stroke-width="0.7"/>
<line x1="117.2" y1="463.4" x2="117.2" y2="464.6" stroke="#888" stroke-width="0.7"/>
<line x1="119.2" y1="463.4" x2="119.2" y2="464.6" stroke="#888" stroke-width="0.7"/>
<line x1="120.7" y1="463.4" x2="120.7" y2="464.6" stroke="#888" stroke-width="0.7"/>
<line x1="122.0" y1="463.4" x2="122.0" y2="464.6" stroke="#888" stroke-width="0.7"/>
<line x1="123.0" y1="463.4" x2="123.0" y2="464.6" stroke="#888" stroke-width="0.7"/>
<line x1="123.9" y1="463.4" x2="123.9" y2="464.6" stroke="#888" stroke-width="0.7"/>
<line x1="124.8" y1="463.4" x2="124.8" y2="464.6" stroke="#888" stroke-width="0.7"/>
<line x1="130.2" y1="463.4" x2="130.2" y2="464.6" stroke="#888" stroke-width="0.7"/>
<line x1="133.0" y1="463.4" x2="133.0" y2="464.6" stroke="#888" stroke-width="0.7"/>
<line x1="135.0" y1="463.4" x2="135.0" y2="464.6" stroke="#888" stroke-width="0.7"/>
<line x1="136.5" y1="463.4" x2="136.5" y2="464.6" stroke="#888" stroke-width="0.7"/>
<line x1="137.8" y1="463.4" x2="137.8" y2="464.6" stroke="#888" stroke-width="0.7"/>
<line x1="138.8" y1="463.4" x2="138.8" y2="464.6" stroke="#888" stroke-width="0.7"/>
<line x1="139.8" y1="463.4" x2="139.8" y2="464.6" stroke="#888" stroke-width="0.7"/>
<line x1="140.6" y1="463.4" x2="140.6" y2="464.6" stroke="#888" stroke-width="0.7"/>
<text x="151.2" y="416.5" font-size="10.4" text-anchor="middle" font-weight="normal" fill="#1a1a1a" >85</text>
<text x="151.2" y="430.09999999999997" font-size="10.4" text-anchor="middle" font-weight="normal" fill="#1a1a1a" >83</text>
<text x="151.2" y="443.0" font-size="10.4" text-anchor="middle" font-weight="normal" fill="#1a1a1a" >82</text>
<text x="151.2" y="457.4" font-size="10.4" text-anchor="middle" font-weight="normal" fill="#1a1a1a" >1</text>
<path d="M164.5,391.40 L164.50,391.38 L165.00,391.38 L165.50,391.38 L166.01,391.38 L166.51,391.38 L167.01,391.38 L167.51,391.37 L168.02,391.37 L168.52,391.37 L169.02,391.37 L169.52,391.37 L170.03,391.37 L170.53,391.37 L171.03,391.37 L171.53,391.37 L172.04,391.37 L172.54,391.37 L173.04,391.37 L173.54,391.37 L174.05,391.37 L174.55,391.36 L175.05,391.36 L175.55,391.36 L176.05,391.36 L176.56,391.36 L177.06,391.36 L177.56,391.36 L178.06,391.36 L178.57,391.35 L179.07,391.35 L179.57,391.35 L180.07,391.35 L180.58,391.35 L181.08,391.35 L181.58,391.34 L182.08,391.34 L182.59,391.34 L183.09,391.34 L183.59,391.34 L184.09,391.33 L184.60,391.33 L185.10,391.33 L185.60,391.33 L186.10,391.32 L186.60,391.32 L187.11,391.32 L187.61,391.31 L188.11,391.31 L188.61,391.30 L189.12,391.30 L189.62,391.30 L190.12,391.29 L190.62,391.28 L191.13,391.28 L191.63,391.27 L192.13,391.27 L192.63,391.26 L193.14,391.25 L193.64,391.24 L194.14,391.23 L194.64,391.22 L195.15,391.21 L195.65,391.20 L196.15,391.18 L196.65,391.17 L197.15,391.15 L197.66,391.13 L198.16,391.11 L198.66,391.08 L199.16,391.05 L199.67,391.02 L200.17,390.99 L200.67,390.94 L201.17,390.90 L201.68,390.84 L202.18,390.77 L202.68,390.70 L203.18,390.60 L203.69,390.49 L204.19,390.35 L204.69,390.18 L205.19,389.96 L205.70,389.69 L206.20,389.32 L206.70,388.84 L207.20,388.17 L207.70,387.23 L208.21,385.87 L208.71,383.87 L209.21,380.92 L209.71,376.87 L210.22,372.56 L210.72,370.60 L211.22,372.63 L211.72,377.41 L212.23,382.78 L212.73,387.01 L213.23,389.55 L213.73,390.76 L214.24,391.22 L214.74,391.36 L215.24,391.39 L227.80,391.40 L227.8,391.40" fill="#fff" stroke="#8a8a8a" stroke-width="0.85"/>
<path d="M164.5,405.60 L164.50,405.60 L183.59,405.58 L184.09,405.57 L184.60,405.56 L185.10,405.53 L185.60,405.51 L186.10,405.47 L186.60,405.41 L187.11,405.34 L187.61,405.25 L188.11,405.14 L188.61,404.99 L189.12,404.82 L189.62,404.62 L190.12,404.39 L190.62,404.13 L191.13,403.84 L191.63,403.54 L192.13,403.22 L192.63,402.90 L193.14,402.59 L193.64,402.30 L194.14,402.05 L194.64,401.85 L195.15,401.70 L195.65,401.61 L196.15,401.58 L196.65,401.93 L197.15,402.35 L197.66,402.08 L198.16,400.47 L198.66,397.53 L199.16,394.30 L199.67,392.45 L200.17,393.05 L200.67,395.72 L201.17,398.76 L201.68,400.35 L202.18,399.37 L202.68,395.83 L203.18,390.93 L203.69,386.83 L204.19,385.65 L204.69,388.03 L205.19,392.71 L205.70,397.43 L206.20,400.37 L206.70,400.78 L207.20,398.96 L207.70,396.00 L208.21,393.48 L208.71,392.79 L209.21,394.27 L209.71,396.98 L210.22,399.60 L210.72,401.43 L211.22,402.67 L211.72,403.71 L212.23,404.60 L212.73,405.19 L213.23,405.47 L213.73,405.57 L214.24,405.60 L227.80,405.60 L227.8,405.60" fill="#fff" stroke="#8a8a8a" stroke-width="0.85"/>
<path d="M164.5,420.10 L164.50,420.08 L165.00,420.08 L165.50,420.08 L166.01,420.08 L166.51,420.08 L167.01,420.08 L167.51,420.08 L168.02,420.08 L168.52,420.08 L169.02,420.07 L169.52,420.07 L170.03,420.07 L170.53,420.07 L171.03,420.07 L171.53,420.07 L172.04,420.07 L172.54,420.07 L173.04,420.07 L173.54,420.07 L174.05,420.07 L174.55,420.07 L175.05,420.06 L175.55,420.06 L176.05,420.06 L176.56,420.06 L177.06,420.06 L177.56,420.06 L178.06,420.06 L178.57,420.06 L179.07,420.06 L179.57,420.05 L180.07,420.05 L180.58,420.05 L181.08,420.05 L181.58,420.05 L182.08,420.05 L182.59,420.04 L183.09,420.04 L183.59,420.04 L184.09,420.04 L184.60,420.03 L185.10,420.03 L185.60,420.03 L186.10,420.03 L186.60,420.02 L187.11,420.02 L187.61,420.02 L188.11,420.01 L188.61,420.01 L189.12,420.00 L189.62,420.00 L190.12,419.99 L190.62,419.99 L191.13,419.98 L191.63,419.97 L192.13,419.97 L192.63,419.96 L193.14,419.95 L193.64,419.94 L194.14,419.93 L194.64,419.92 L195.15,419.91 L195.65,419.90 L196.15,419.88 L196.65,419.86 L197.15,419.85 L197.66,419.83 L198.16,419.80 L198.66,419.78 L199.16,419.75 L199.67,419.71 L200.17,419.67 L200.67,419.63 L201.17,419.57 L201.68,419.51 L202.18,419.44 L202.68,419.35 L203.18,419.24 L203.69,419.10 L204.19,418.94 L204.69,418.73 L205.19,418.45 L205.70,418.10 L206.20,417.61 L206.70,416.95 L207.20,415.99 L207.70,414.60 L208.21,412.52 L208.71,409.42 L209.21,405.19 L209.71,400.95 L210.22,399.75 L210.72,403.52 L211.22,409.89 L211.72,415.34 L212.23,418.42 L212.73,419.65 L213.23,420.01 L213.73,420.09 L227.80,420.10 L227.8,420.10" fill="#fff" stroke="#8a8a8a" stroke-width="0.85"/>
<path d="M164.5,434.10 L164.50,434.08 L165.00,434.08 L165.50,434.08 L166.01,434.08 L166.51,434.08 L167.01,434.08 L167.51,434.08 L168.02,434.08 L168.52,434.07 L169.02,434.07 L169.52,434.07 L170.03,434.07 L170.53,434.07 L171.03,434.07 L171.53,434.07 L172.04,434.07 L172.54,434.07 L173.04,434.07 L173.54,434.07 L174.05,434.07 L174.55,434.07 L175.05,434.06 L175.55,434.06 L176.05,434.06 L176.56,434.06 L177.06,434.06 L177.56,434.06 L178.06,434.06 L178.57,434.06 L179.07,434.06 L179.57,434.05 L180.07,434.05 L180.58,434.05 L181.08,434.05 L181.58,434.05 L182.08,434.04 L182.59,434.04 L183.09,434.04 L183.59,434.04 L184.09,434.04 L184.60,434.03 L185.10,434.03 L185.60,434.03 L186.10,434.02 L186.60,434.02 L187.11,434.02 L187.61,434.01 L188.11,434.01 L188.61,434.01 L189.12,434.00 L189.62,434.00 L190.12,433.99 L190.62,433.99 L191.13,433.98 L191.63,433.97 L192.13,433.97 L192.63,433.96 L193.14,433.95 L193.64,433.94 L194.14,433.93 L194.64,433.92 L195.15,433.91 L195.65,433.89 L196.15,433.88 L196.65,433.86 L197.15,433.84 L197.66,433.82 L198.16,433.80 L198.66,433.77 L199.16,433.74 L199.67,433.70 L200.17,433.66 L200.67,433.62 L201.17,433.56 L201.68,433.50 L202.18,433.42 L202.68,433.33 L203.18,433.21 L203.69,433.07 L204.19,432.90 L204.69,432.68 L205.19,432.39 L205.70,432.01 L206.20,431.50 L206.70,430.78 L207.20,429.76 L207.70,428.25 L208.21,425.99 L208.71,422.66 L209.21,418.27 L209.71,414.37 L210.22,414.13 L210.72,418.71 L211.22,425.13 L211.72,430.15 L212.23,432.78 L212.73,433.77 L213.23,434.04 L213.73,434.09 L227.80,434.10 L227.8,434.10" fill="#fff" stroke="#8a8a8a" stroke-width="0.85"/>
<path d="M164.5,448.30 L164.50,448.28 L165.00,448.28 L165.50,448.28 L166.01,448.28 L166.51,448.28 L167.01,448.28 L167.51,448.28 L168.02,448.28 L168.52,448.27 L169.02,448.27 L169.52,448.27 L170.03,448.27 L170.53,448.27 L171.03,448.27 L171.53,448.27 L172.04,448.27 L172.54,448.27 L173.04,448.27 L173.54,448.27 L174.05,448.27 L174.55,448.27 L175.05,448.26 L175.55,448.26 L176.05,448.26 L176.56,448.26 L177.06,448.26 L177.56,448.26 L178.06,448.26 L178.57,448.26 L179.07,448.25 L179.57,448.25 L180.07,448.25 L180.58,448.25 L181.08,448.25 L181.58,448.25 L182.08,448.24 L182.59,448.24 L183.09,448.24 L183.59,448.24 L184.09,448.24 L184.60,448.23 L185.10,448.23 L185.60,448.23 L186.10,448.22 L186.60,448.22 L187.11,448.22 L187.61,448.21 L188.11,448.21 L188.61,448.21 L189.12,448.20 L189.62,448.20 L190.12,448.19 L190.62,448.18 L191.13,448.18 L191.63,448.17 L192.13,448.16 L192.63,448.16 L193.14,448.15 L193.64,448.14 L194.14,448.13 L194.64,448.12 L195.15,448.10 L195.65,448.09 L196.15,448.07 L196.65,448.06 L197.15,448.04 L197.66,448.02 L198.16,447.99 L198.66,447.96 L199.16,447.93 L199.67,447.90 L200.17,447.85 L200.67,447.81 L201.17,447.75 L201.68,447.68 L202.18,447.60 L202.68,447.51 L203.18,447.39 L203.69,447.24 L204.19,447.06 L204.69,446.83 L205.19,446.52 L205.70,446.12 L206.20,445.57 L206.70,444.81 L207.20,443.70 L207.70,442.07 L208.21,439.62 L208.71,436.05 L209.21,431.57 L209.71,428.13 L210.22,428.91 L210.72,434.16 L211.22,440.51 L211.72,445.05 L212.23,447.28 L212.73,448.06 L213.23,448.26 L213.73,448.29 L227.80,448.30 L227.8,448.30" fill="#fff" stroke="#8a8a8a" stroke-width="0.85"/>
<path d="M164.5,462.80 L164.50,462.79 L173.54,462.78 L174.05,462.78 L174.55,462.78 L175.05,462.78 L175.55,462.78 L176.05,462.78 L176.56,462.78 L177.06,462.78 L177.56,462.78 L178.06,462.77 L178.57,462.77 L179.07,462.77 L179.57,462.77 L180.07,462.77 L180.58,462.77 L181.08,462.77 L181.58,462.77 L182.08,462.77 L182.59,462.77 L183.09,462.76 L183.59,462.76 L184.09,462.76 L184.60,462.76 L185.10,462.76 L185.60,462.76 L186.10,462.75 L186.60,462.75 L187.11,462.75 L187.61,462.75 L188.11,462.74 L188.61,462.74 L189.12,462.74 L189.62,462.73 L190.12,462.72 L190.62,462.69 L191.13,462.62 L191.63,462.43 L192.13,462.06 L192.63,461.45 L193.14,460.68 L193.64,459.94 L194.14,459.52 L194.64,459.60 L195.15,460.14 L195.65,460.86 L196.15,461.42 L196.65,461.56 L197.15,461.11 L197.66,460.04 L198.16,458.57 L198.66,457.16 L199.16,456.36 L199.67,456.48 L200.17,457.28 L200.67,458.07 L201.17,458.05 L201.68,456.80 L202.18,454.54 L202.68,452.19 L203.18,450.88 L203.69,451.30 L204.19,453.24 L204.69,455.82 L205.19,458.08 L205.70,459.47 L206.20,459.93 L206.70,459.61 L207.20,458.56 L207.70,456.62 L208.21,453.24 L208.71,447.88 L209.21,442.59 L209.71,443.11 L210.22,448.43 L210.72,454.87 L211.22,459.49 L211.72,461.76 L212.23,462.55 L212.73,462.76 L213.23,462.79 L227.80,462.80 L227.8,462.80" fill="#fff" stroke="#8a8a8a" stroke-width="0.85"/>
<line x1="164.5" y1="368.4" x2="164.5" y2="462.8" stroke="#a8a8a8" stroke-width="0.9"/>
<line x1="227.8" y1="368.4" x2="227.8" y2="462.8" stroke="#a0a0a0" stroke-width="1"/>
<line x1="164.0" y1="368.4" x2="228.3" y2="368.4" stroke="#858585" stroke-width="1.3"/>
<line x1="164.0" y1="462.8" x2="228.3" y2="462.8" stroke="#5a5a5a" stroke-width="1.7"/>
<text transform="translate(179.9,472.8) scale(0.85,1)" font-size="7.9" text-anchor="middle" fill="#1a1a1a">10<tspan font-size="4.6" dy="-2.6">1</tspan></text>
<text transform="translate(195.8,472.8) scale(0.85,1)" font-size="7.9" text-anchor="middle" fill="#1a1a1a">10<tspan font-size="4.6" dy="-2.6">2</tspan></text>
<text transform="translate(211.6,472.8) scale(0.85,1)" font-size="7.9" text-anchor="middle" fill="#1a1a1a">10<tspan font-size="4.6" dy="-2.6">3</tspan></text>
<text transform="translate(227.4,472.8) scale(0.85,1)" font-size="7.9" text-anchor="middle" fill="#1a1a1a">10<tspan font-size="4.6" dy="-2.6">4</tspan></text>
<line x1="169.3" y1="463.4" x2="169.3" y2="464.6" stroke="#888" stroke-width="0.7"/>
<line x1="172.1" y1="463.4" x2="172.1" y2="464.6" stroke="#888" stroke-width="0.7"/>
<line x1="174.0" y1="463.4" x2="174.0" y2="464.6" stroke="#888" stroke-width="0.7"/>
<line x1="175.6" y1="463.4" x2="175.6" y2="464.6" stroke="#888" stroke-width="0.7"/>
<line x1="176.8" y1="463.4" x2="176.8" y2="464.6" stroke="#888" stroke-width="0.7"/>
<line x1="177.9" y1="463.4" x2="177.9" y2="464.6" stroke="#888" stroke-width="0.7"/>
<line x1="178.8" y1="463.4" x2="178.8" y2="464.6" stroke="#888" stroke-width="0.7"/>
<line x1="179.6" y1="463.4" x2="179.6" y2="464.6" stroke="#888" stroke-width="0.7"/>
<line x1="185.1" y1="463.4" x2="185.1" y2="464.6" stroke="#888" stroke-width="0.7"/>
<line x1="187.9" y1="463.4" x2="187.9" y2="464.6" stroke="#888" stroke-width="0.7"/>
<line x1="189.9" y1="463.4" x2="189.9" y2="464.6" stroke="#888" stroke-width="0.7"/>
<line x1="191.4" y1="463.4" x2="191.4" y2="464.6" stroke="#888" stroke-width="0.7"/>
<line x1="192.6" y1="463.4" x2="192.6" y2="464.6" stroke="#888" stroke-width="0.7"/>
<line x1="193.7" y1="463.4" x2="193.7" y2="464.6" stroke="#888" stroke-width="0.7"/>
<line x1="194.6" y1="463.4" x2="194.6" y2="464.6" stroke="#888" stroke-width="0.7"/>
<line x1="195.4" y1="463.4" x2="195.4" y2="464.6" stroke="#888" stroke-width="0.7"/>
<line x1="200.9" y1="463.4" x2="200.9" y2="464.6" stroke="#888" stroke-width="0.7"/>
<line x1="203.7" y1="463.4" x2="203.7" y2="464.6" stroke="#888" stroke-width="0.7"/>
<line x1="205.7" y1="463.4" x2="205.7" y2="464.6" stroke="#888" stroke-width="0.7"/>
<line x1="207.2" y1="463.4" x2="207.2" y2="464.6" stroke="#888" stroke-width="0.7"/>
<line x1="208.5" y1="463.4" x2="208.5" y2="464.6" stroke="#888" stroke-width="0.7"/>
<line x1="209.5" y1="463.4" x2="209.5" y2="464.6" stroke="#888" stroke-width="0.7"/>
<line x1="210.4" y1="463.4" x2="210.4" y2="464.6" stroke="#888" stroke-width="0.7"/>
<line x1="211.3" y1="463.4" x2="211.3" y2="464.6" stroke="#888" stroke-width="0.7"/>
<line x1="216.7" y1="463.4" x2="216.7" y2="464.6" stroke="#888" stroke-width="0.7"/>
<line x1="219.5" y1="463.4" x2="219.5" y2="464.6" stroke="#888" stroke-width="0.7"/>
<line x1="221.5" y1="463.4" x2="221.5" y2="464.6" stroke="#888" stroke-width="0.7"/>
<line x1="223.0" y1="463.4" x2="223.0" y2="464.6" stroke="#888" stroke-width="0.7"/>
<line x1="224.3" y1="463.4" x2="224.3" y2="464.6" stroke="#888" stroke-width="0.7"/>
<line x1="225.3" y1="463.4" x2="225.3" y2="464.6" stroke="#888" stroke-width="0.7"/>
<line x1="226.3" y1="463.4" x2="226.3" y2="464.6" stroke="#888" stroke-width="0.7"/>
<line x1="227.1" y1="463.4" x2="227.1" y2="464.6" stroke="#888" stroke-width="0.7"/>
<text x="240.0" y="416.5" font-size="10.4" text-anchor="middle" font-weight="normal" fill="#1a1a1a" >82</text>
<text x="240.0" y="430.09999999999997" font-size="10.4" text-anchor="middle" font-weight="normal" fill="#1a1a1a" >85</text>
<text x="240.0" y="443.0" font-size="10.4" text-anchor="middle" font-weight="normal" fill="#1a1a1a" >81</text>
<text x="240.0" y="457.4" font-size="10.4" text-anchor="middle" font-weight="normal" fill="#1a1a1a" >53</text>
<path d="M250.4,391.40 L250.40,391.38 L250.90,391.38 L251.40,391.38 L251.91,391.38 L252.41,391.38 L252.91,391.38 L253.41,391.37 L253.92,391.37 L254.42,391.37 L254.92,391.37 L255.42,391.37 L255.93,391.37 L256.43,391.37 L256.93,391.37 L257.43,391.37 L257.94,391.37 L258.44,391.37 L258.94,391.37 L259.44,391.37 L259.95,391.37 L260.45,391.36 L260.95,391.36 L261.45,391.36 L261.95,391.36 L262.46,391.36 L262.96,391.36 L263.46,391.36 L263.96,391.36 L264.47,391.35 L264.97,391.35 L265.47,391.35 L265.97,391.35 L266.48,391.35 L266.98,391.35 L267.48,391.34 L267.98,391.34 L268.49,391.34 L268.99,391.34 L269.49,391.34 L269.99,391.33 L270.50,391.33 L271.00,391.33 L271.50,391.33 L272.00,391.32 L272.50,391.32 L273.01,391.32 L273.51,391.31 L274.01,391.31 L274.51,391.30 L275.02,391.30 L275.52,391.30 L276.02,391.29 L276.52,391.28 L277.03,391.28 L277.53,391.27 L278.03,391.27 L278.53,391.26 L279.04,391.25 L279.54,391.24 L280.04,391.23 L280.54,391.22 L281.05,391.21 L281.55,391.20 L282.05,391.18 L282.55,391.17 L283.05,391.15 L283.56,391.13 L284.06,391.11 L284.56,391.08 L285.06,391.05 L285.57,391.02 L286.07,390.99 L286.57,390.94 L287.07,390.90 L287.58,390.84 L288.08,390.77 L288.58,390.70 L289.08,390.60 L289.59,390.49 L290.09,390.35 L290.59,390.18 L291.09,389.96 L291.60,389.69 L292.10,389.32 L292.60,388.84 L293.10,388.17 L293.60,387.23 L294.11,385.87 L294.61,383.87 L295.11,380.92 L295.61,376.87 L296.12,372.56 L296.62,370.60 L297.12,372.63 L297.62,377.41 L298.13,382.78 L298.63,387.01 L299.13,389.55 L299.63,390.76 L300.14,391.22 L300.64,391.36 L301.14,391.39 L313.70,391.40 L313.7,391.40" fill="#fff" stroke="#8a8a8a" stroke-width="0.85"/>
<path d="M250.4,405.60 L250.40,405.60 L268.99,405.59 L269.49,405.58 L269.99,405.57 L270.50,405.55 L271.00,405.53 L271.50,405.50 L272.00,405.46 L272.50,405.40 L273.01,405.32 L273.51,405.23 L274.01,405.11 L274.51,404.96 L275.02,404.79 L275.52,404.58 L276.02,404.34 L276.52,404.07 L277.03,403.78 L277.53,403.47 L278.03,403.15 L278.53,402.84 L279.04,402.53 L279.54,402.25 L280.04,402.01 L280.54,401.81 L281.05,401.68 L281.55,401.59 L282.05,401.61 L282.55,402.03 L283.05,402.38 L283.56,401.88 L284.06,399.97 L284.56,396.86 L285.06,393.77 L285.57,392.36 L286.07,393.46 L286.57,396.36 L287.07,399.24 L287.58,400.38 L288.08,398.85 L288.58,394.90 L289.08,389.97 L289.59,386.31 L290.09,385.85 L290.59,388.85 L291.09,393.72 L291.60,398.20 L292.10,400.65 L292.60,400.57 L293.10,398.41 L293.60,395.41 L294.11,393.17 L294.61,392.93 L295.11,394.75 L295.61,397.55 L296.12,400.03 L296.62,401.71 L297.12,402.88 L297.62,403.90 L298.13,404.74 L298.63,405.27 L299.13,405.50 L299.63,405.58 L300.14,405.60 L313.70,405.60 L313.7,405.60" fill="#fff" stroke="#8a8a8a" stroke-width="0.85"/>
<path d="M250.4,420.10 L250.40,420.08 L250.90,420.08 L251.40,420.08 L251.91,420.08 L252.41,420.08 L252.91,420.08 L253.41,420.08 L253.92,420.08 L254.42,420.08 L254.92,420.08 L255.42,420.08 L255.93,420.07 L256.43,420.07 L256.93,420.07 L257.43,420.07 L257.94,420.07 L258.44,420.07 L258.94,420.07 L259.44,420.07 L259.95,420.07 L260.45,420.07 L260.95,420.07 L261.45,420.07 L261.95,420.07 L262.46,420.06 L262.96,420.06 L263.46,420.06 L263.96,420.06 L264.47,420.06 L264.97,420.06 L265.47,420.06 L265.97,420.06 L266.48,420.05 L266.98,420.05 L267.48,420.05 L267.98,420.05 L268.49,420.05 L268.99,420.05 L269.49,420.04 L269.99,420.04 L270.50,420.04 L271.00,420.04 L271.50,420.04 L272.00,420.03 L272.50,420.03 L273.01,420.03 L273.51,420.02 L274.01,420.02 L274.51,420.02 L275.02,420.01 L275.52,420.01 L276.02,420.01 L276.52,420.00 L277.03,420.00 L277.53,419.99 L278.03,419.98 L278.53,419.98 L279.04,419.97 L279.54,419.96 L280.04,419.96 L280.54,419.95 L281.05,419.94 L281.55,419.93 L282.05,419.92 L282.55,419.90 L283.05,419.89 L283.56,419.87 L284.06,419.86 L284.56,419.84 L285.06,419.82 L285.57,419.79 L286.07,419.76 L286.57,419.73 L287.07,419.70 L287.58,419.65 L288.08,419.61 L288.58,419.55 L289.08,419.48 L289.59,419.40 L290.09,419.30 L290.59,419.19 L291.09,419.04 L291.60,418.86 L292.10,418.62 L292.60,418.32 L293.10,417.91 L293.60,417.36 L294.11,416.59 L294.61,415.49 L295.11,413.84 L295.61,411.38 L296.12,407.80 L296.62,403.30 L297.12,399.91 L297.62,400.76 L298.13,406.06 L298.63,412.39 L299.13,416.90 L299.63,419.10 L300.14,419.86 L300.64,420.06 L301.14,420.09 L313.70,420.10 L313.7,420.10" fill="#fff" stroke="#8a8a8a" stroke-width="0.85"/>
<path d="M250.4,434.10 L250.40,434.08 L250.90,434.08 L251.40,434.08 L251.91,434.08 L252.41,434.08 L252.91,434.08 L253.41,434.08 L253.92,434.08 L254.42,434.08 L254.92,434.08 L255.42,434.08 L255.93,434.07 L256.43,434.07 L256.93,434.07 L257.43,434.07 L257.94,434.07 L258.44,434.07 L258.94,434.07 L259.44,434.07 L259.95,434.07 L260.45,434.07 L260.95,434.07 L261.45,434.07 L261.95,434.07 L262.46,434.06 L262.96,434.06 L263.46,434.06 L263.96,434.06 L264.47,434.06 L264.97,434.06 L265.47,434.06 L265.97,434.06 L266.48,434.05 L266.98,434.05 L267.48,434.05 L267.98,434.05 L268.49,434.05 L268.99,434.05 L269.49,434.04 L269.99,434.04 L270.50,434.04 L271.00,434.04 L271.50,434.04 L272.00,434.03 L272.50,434.03 L273.01,434.03 L273.51,434.02 L274.01,434.02 L274.51,434.02 L275.02,434.01 L275.52,434.01 L276.02,434.01 L276.52,434.00 L277.03,434.00 L277.53,433.99 L278.03,433.98 L278.53,433.98 L279.04,433.97 L279.54,433.96 L280.04,433.96 L280.54,433.95 L281.05,433.94 L281.55,433.93 L282.05,433.92 L282.55,433.90 L283.05,433.89 L283.56,433.87 L284.06,433.86 L284.56,433.84 L285.06,433.82 L285.57,433.79 L286.07,433.76 L286.57,433.73 L287.07,433.70 L287.58,433.65 L288.08,433.61 L288.58,433.55 L289.08,433.48 L289.59,433.40 L290.09,433.30 L290.59,433.19 L291.09,433.04 L291.60,432.86 L292.10,432.62 L292.60,432.32 L293.10,431.91 L293.60,431.36 L294.11,430.59 L294.61,429.49 L295.11,427.84 L295.61,425.38 L296.12,421.80 L296.62,417.30 L297.12,413.91 L297.62,414.76 L298.13,420.06 L298.63,426.39 L299.13,430.90 L299.63,433.10 L300.14,433.86 L300.64,434.06 L301.14,434.09 L313.70,434.10 L313.7,434.10" fill="#fff" stroke="#8a8a8a" stroke-width="0.85"/>
<path d="M250.4,448.30 L250.40,448.28 L250.90,448.28 L251.40,448.28 L251.91,448.28 L252.41,448.28 L252.91,448.28 L253.41,448.28 L253.92,448.28 L254.42,448.28 L254.92,448.28 L255.42,448.28 L255.93,448.27 L256.43,448.27 L256.93,448.27 L257.43,448.27 L257.94,448.27 L258.44,448.27 L258.94,448.27 L259.44,448.27 L259.95,448.27 L260.45,448.27 L260.95,448.27 L261.45,448.27 L261.95,448.27 L262.46,448.26 L262.96,448.26 L263.46,448.26 L263.96,448.26 L264.47,448.26 L264.97,448.26 L265.47,448.26 L265.97,448.26 L266.48,448.25 L266.98,448.25 L267.48,448.25 L267.98,448.25 L268.49,448.25 L268.99,448.25 L269.49,448.24 L269.99,448.24 L270.50,448.24 L271.00,448.24 L271.50,448.23 L272.00,448.23 L272.50,448.23 L273.01,448.23 L273.51,448.22 L274.01,448.22 L274.51,448.22 L275.02,448.21 L275.52,448.21 L276.02,448.20 L276.52,448.20 L277.03,448.19 L277.53,448.19 L278.03,448.18 L278.53,448.18 L279.04,448.17 L279.54,448.16 L280.04,448.15 L280.54,448.14 L281.05,448.13 L281.55,448.12 L282.05,448.11 L282.55,448.10 L283.05,448.08 L283.56,448.07 L284.06,448.05 L284.56,448.03 L285.06,448.01 L285.57,447.98 L286.07,447.95 L286.57,447.92 L287.07,447.88 L287.58,447.84 L288.08,447.78 L288.58,447.72 L289.08,447.65 L289.59,447.56 L290.09,447.46 L290.59,447.33 L291.09,447.17 L291.60,446.97 L292.10,446.71 L292.60,446.37 L293.10,445.92 L293.60,445.29 L294.11,444.40 L294.61,443.11 L295.11,441.18 L295.61,438.30 L296.12,434.26 L296.62,429.83 L297.12,427.81 L297.62,430.69 L298.13,436.86 L298.63,442.68 L299.13,446.21 L299.63,447.71 L300.14,448.18 L300.64,448.28 L313.70,448.30 L313.7,448.30" fill="#fff" stroke="#8a8a8a" stroke-width="0.85"/>
<path d="M250.4,462.80 L250.40,462.79 L260.95,462.78 L261.45,462.78 L261.95,462.78 L262.46,462.78 L262.96,462.78 L263.46,462.78 L263.96,462.78 L264.47,462.78 L264.97,462.78 L265.47,462.77 L265.97,462.77 L266.48,462.77 L266.98,462.77 L267.48,462.77 L267.98,462.77 L268.49,462.77 L268.99,462.77 L269.49,462.77 L269.99,462.76 L270.50,462.76 L271.00,462.76 L271.50,462.76 L272.00,462.76 L272.50,462.76 L273.01,462.75 L273.51,462.75 L274.01,462.75 L274.51,462.75 L275.02,462.75 L275.52,462.74 L276.02,462.74 L276.52,462.74 L277.03,462.73 L277.53,462.73 L278.03,462.73 L278.53,462.72 L279.04,462.72 L279.54,462.71 L280.04,462.71 L280.54,462.70 L281.05,462.69 L281.55,462.66 L282.05,462.60 L282.55,462.48 L283.05,462.28 L283.56,461.99 L284.06,461.68 L284.56,461.42 L285.06,461.29 L285.57,461.24 L286.07,461.12 L286.57,460.82 L287.07,460.33 L287.58,459.77 L288.08,459.30 L288.58,458.88 L289.08,458.24 L289.59,457.11 L290.09,455.54 L290.59,454.07 L291.09,453.42 L291.60,453.95 L292.10,455.39 L292.60,457.02 L293.10,458.15 L293.60,458.34 L294.11,457.40 L294.61,455.05 L295.11,450.78 L295.61,445.16 L296.12,443.15 L296.62,446.79 L297.12,452.94 L297.62,458.21 L298.13,461.18 L298.63,462.37 L299.13,462.71 L299.63,462.79 L313.70,462.80 L313.7,462.80" fill="#fff" stroke="#8a8a8a" stroke-width="0.85"/>
<line x1="250.4" y1="368.4" x2="250.4" y2="462.8" stroke="#a8a8a8" stroke-width="0.9"/>
<line x1="313.7" y1="368.4" x2="313.7" y2="462.8" stroke="#a0a0a0" stroke-width="1"/>
<line x1="249.9" y1="368.4" x2="314.2" y2="368.4" stroke="#858585" stroke-width="1.3"/>
<line x1="249.9" y1="462.8" x2="314.2" y2="462.8" stroke="#5a5a5a" stroke-width="1.7"/>
<text transform="translate(265.8,472.8) scale(0.85,1)" font-size="7.9" text-anchor="middle" fill="#1a1a1a">10<tspan font-size="4.6" dy="-2.6">1</tspan></text>
<text transform="translate(281.7,472.8) scale(0.85,1)" font-size="7.9" text-anchor="middle" fill="#1a1a1a">10<tspan font-size="4.6" dy="-2.6">2</tspan></text>
<text transform="translate(297.5,472.8) scale(0.85,1)" font-size="7.9" text-anchor="middle" fill="#1a1a1a">10<tspan font-size="4.6" dy="-2.6">3</tspan></text>
<text transform="translate(313.3,472.8) scale(0.85,1)" font-size="7.9" text-anchor="middle" fill="#1a1a1a">10<tspan font-size="4.6" dy="-2.6">4</tspan></text>
<line x1="255.2" y1="463.4" x2="255.2" y2="464.6" stroke="#888" stroke-width="0.7"/>
<line x1="258.0" y1="463.4" x2="258.0" y2="464.6" stroke="#888" stroke-width="0.7"/>
<line x1="259.9" y1="463.4" x2="259.9" y2="464.6" stroke="#888" stroke-width="0.7"/>
<line x1="261.5" y1="463.4" x2="261.5" y2="464.6" stroke="#888" stroke-width="0.7"/>
<line x1="262.7" y1="463.4" x2="262.7" y2="464.6" stroke="#888" stroke-width="0.7"/>
<line x1="263.8" y1="463.4" x2="263.8" y2="464.6" stroke="#888" stroke-width="0.7"/>
<line x1="264.7" y1="463.4" x2="264.7" y2="464.6" stroke="#888" stroke-width="0.7"/>
<line x1="265.5" y1="463.4" x2="265.5" y2="464.6" stroke="#888" stroke-width="0.7"/>
<line x1="271.0" y1="463.4" x2="271.0" y2="464.6" stroke="#888" stroke-width="0.7"/>
<line x1="273.8" y1="463.4" x2="273.8" y2="464.6" stroke="#888" stroke-width="0.7"/>
<line x1="275.8" y1="463.4" x2="275.8" y2="464.6" stroke="#888" stroke-width="0.7"/>
<line x1="277.3" y1="463.4" x2="277.3" y2="464.6" stroke="#888" stroke-width="0.7"/>
<line x1="278.5" y1="463.4" x2="278.5" y2="464.6" stroke="#888" stroke-width="0.7"/>
<line x1="279.6" y1="463.4" x2="279.6" y2="464.6" stroke="#888" stroke-width="0.7"/>
<line x1="280.5" y1="463.4" x2="280.5" y2="464.6" stroke="#888" stroke-width="0.7"/>
<line x1="281.3" y1="463.4" x2="281.3" y2="464.6" stroke="#888" stroke-width="0.7"/>
<line x1="286.8" y1="463.4" x2="286.8" y2="464.6" stroke="#888" stroke-width="0.7"/>
<line x1="289.6" y1="463.4" x2="289.6" y2="464.6" stroke="#888" stroke-width="0.7"/>
<line x1="291.6" y1="463.4" x2="291.6" y2="464.6" stroke="#888" stroke-width="0.7"/>
<line x1="293.1" y1="463.4" x2="293.1" y2="464.6" stroke="#888" stroke-width="0.7"/>
<line x1="294.4" y1="463.4" x2="294.4" y2="464.6" stroke="#888" stroke-width="0.7"/>
<line x1="295.4" y1="463.4" x2="295.4" y2="464.6" stroke="#888" stroke-width="0.7"/>
<line x1="296.3" y1="463.4" x2="296.3" y2="464.6" stroke="#888" stroke-width="0.7"/>
<line x1="297.2" y1="463.4" x2="297.2" y2="464.6" stroke="#888" stroke-width="0.7"/>
<line x1="302.6" y1="463.4" x2="302.6" y2="464.6" stroke="#888" stroke-width="0.7"/>
<line x1="305.4" y1="463.4" x2="305.4" y2="464.6" stroke="#888" stroke-width="0.7"/>
<line x1="307.4" y1="463.4" x2="307.4" y2="464.6" stroke="#888" stroke-width="0.7"/>
<line x1="308.9" y1="463.4" x2="308.9" y2="464.6" stroke="#888" stroke-width="0.7"/>
<line x1="310.2" y1="463.4" x2="310.2" y2="464.6" stroke="#888" stroke-width="0.7"/>
<line x1="311.2" y1="463.4" x2="311.2" y2="464.6" stroke="#888" stroke-width="0.7"/>
<line x1="312.2" y1="463.4" x2="312.2" y2="464.6" stroke="#888" stroke-width="0.7"/>
<line x1="313.0" y1="463.4" x2="313.0" y2="464.6" stroke="#888" stroke-width="0.7"/>
<text x="326.4" y="416.5" font-size="10.4" text-anchor="middle" font-weight="normal" fill="#1a1a1a" >83</text>
<text x="326.4" y="430.09999999999997" font-size="10.4" text-anchor="middle" font-weight="normal" fill="#1a1a1a" >83</text>
<text x="326.4" y="443.0" font-size="10.4" text-anchor="middle" font-weight="normal" fill="#1a1a1a" >81</text>
<text x="326.4" y="457.4" font-size="10.4" text-anchor="middle" font-weight="normal" fill="#1a1a1a" >57</text>
<path d="M335.7,391.40 L335.70,391.38 L336.20,391.38 L336.70,391.38 L337.21,391.38 L337.71,391.38 L338.21,391.38 L338.71,391.38 L339.22,391.37 L339.72,391.37 L340.22,391.37 L340.72,391.37 L341.23,391.37 L341.73,391.37 L342.23,391.37 L342.73,391.37 L343.24,391.37 L343.74,391.37 L344.24,391.37 L344.74,391.37 L345.25,391.37 L345.75,391.36 L346.25,391.36 L346.75,391.36 L347.25,391.36 L347.76,391.36 L348.26,391.36 L348.76,391.36 L349.26,391.36 L349.77,391.36 L350.27,391.35 L350.77,391.35 L351.27,391.35 L351.78,391.35 L352.28,391.35 L352.78,391.35 L353.28,391.34 L353.79,391.34 L354.29,391.34 L354.79,391.34 L355.29,391.33 L355.80,391.33 L356.30,391.33 L356.80,391.33 L357.30,391.32 L357.80,391.32 L358.31,391.32 L358.81,391.31 L359.31,391.31 L359.81,391.31 L360.32,391.30 L360.82,391.30 L361.32,391.29 L361.82,391.29 L362.33,391.28 L362.83,391.27 L363.33,391.27 L363.83,391.26 L364.34,391.25 L364.84,391.24 L365.34,391.23 L365.84,391.22 L366.35,391.21 L366.85,391.20 L367.35,391.18 L367.85,391.17 L368.35,391.15 L368.86,391.13 L369.36,391.11 L369.86,391.09 L370.36,391.06 L370.87,391.03 L371.37,390.99 L371.87,390.95 L372.37,390.91 L372.88,390.85 L373.38,390.79 L373.88,390.71 L374.38,390.62 L374.89,390.51 L375.39,390.38 L375.89,390.22 L376.39,390.01 L376.90,389.75 L377.40,389.40 L377.90,388.94 L378.40,388.32 L378.90,387.44 L379.41,386.18 L379.91,384.33 L380.41,381.59 L380.91,377.75 L381.42,373.33 L381.92,370.66 L382.42,371.95 L382.92,376.34 L383.43,381.76 L383.93,386.30 L384.43,389.17 L384.93,390.60 L385.44,391.16 L385.94,391.34 L386.44,391.39 L399.00,391.40 L399.0,391.40" fill="#fff" stroke="#8a8a8a" stroke-width="0.85"/>
<path d="M335.7,405.60 L335.70,405.60 L354.29,405.59 L354.79,405.58 L355.29,405.57 L355.80,405.55 L356.30,405.53 L356.80,405.50 L357.30,405.46 L357.80,405.40 L358.31,405.32 L358.81,405.23 L359.31,405.11 L359.81,404.96 L360.32,404.79 L360.82,404.58 L361.32,404.34 L361.82,404.07 L362.33,403.78 L362.83,403.47 L363.33,403.15 L363.83,402.84 L364.34,402.53 L364.84,402.25 L365.34,402.01 L365.84,401.81 L366.35,401.68 L366.85,401.59 L367.35,401.61 L367.85,402.03 L368.35,402.38 L368.86,401.88 L369.36,399.97 L369.86,396.86 L370.36,393.77 L370.87,392.36 L371.37,393.46 L371.87,396.36 L372.37,399.24 L372.88,400.38 L373.38,398.85 L373.88,394.90 L374.38,389.97 L374.89,386.31 L375.39,385.85 L375.89,388.85 L376.39,393.72 L376.90,398.20 L377.40,400.65 L377.90,400.57 L378.40,398.41 L378.90,395.41 L379.41,393.17 L379.91,392.93 L380.41,394.75 L380.91,397.55 L381.42,400.03 L381.92,401.71 L382.42,402.88 L382.92,403.90 L383.43,404.74 L383.93,405.27 L384.43,405.50 L384.93,405.58 L385.44,405.60 L399.00,405.60 L399.0,405.60" fill="#fff" stroke="#8a8a8a" stroke-width="0.85"/>
<path d="M335.7,420.10 L335.70,420.08 L336.20,420.08 L336.70,420.08 L337.21,420.08 L337.71,420.08 L338.21,420.08 L338.71,420.08 L339.22,420.08 L339.72,420.08 L340.22,420.08 L340.72,420.08 L341.23,420.08 L341.73,420.07 L342.23,420.07 L342.73,420.07 L343.24,420.07 L343.74,420.07 L344.24,420.07 L344.74,420.07 L345.25,420.07 L345.75,420.07 L346.25,420.07 L346.75,420.07 L347.25,420.07 L347.76,420.07 L348.26,420.06 L348.76,420.06 L349.26,420.06 L349.77,420.06 L350.27,420.06 L350.77,420.06 L351.27,420.06 L351.78,420.06 L352.28,420.05 L352.78,420.05 L353.28,420.05 L353.79,420.05 L354.29,420.05 L354.79,420.05 L355.29,420.04 L355.80,420.04 L356.30,420.04 L356.80,420.04 L357.30,420.03 L357.80,420.03 L358.31,420.03 L358.81,420.03 L359.31,420.02 L359.81,420.02 L360.32,420.02 L360.82,420.01 L361.32,420.01 L361.82,420.00 L362.33,420.00 L362.83,419.99 L363.33,419.99 L363.83,419.98 L364.34,419.98 L364.84,419.97 L365.34,419.96 L365.84,419.95 L366.35,419.95 L366.85,419.94 L367.35,419.93 L367.85,419.91 L368.35,419.90 L368.86,419.89 L369.36,419.87 L369.86,419.85 L370.36,419.83 L370.87,419.81 L371.37,419.79 L371.87,419.76 L372.37,419.73 L372.88,419.69 L373.38,419.64 L373.88,419.59 L374.38,419.54 L374.89,419.47 L375.39,419.38 L375.89,419.28 L376.39,419.16 L376.90,419.01 L377.40,418.81 L377.90,418.57 L378.40,418.25 L378.90,417.82 L379.41,417.23 L379.91,416.40 L380.41,415.20 L380.91,413.42 L381.42,410.75 L381.92,406.92 L382.42,402.42 L382.92,399.66 L383.43,401.56 L383.93,407.39 L384.43,413.51 L384.93,417.52 L385.44,419.33 L385.94,419.93 L386.44,420.07 L386.94,420.10 L399.00,420.10 L399.0,420.10" fill="#fff" stroke="#8a8a8a" stroke-width="0.85"/>
<path d="M335.7,434.10 L335.70,434.08 L336.20,434.08 L336.70,434.08 L337.21,434.08 L337.71,434.08 L338.21,434.08 L338.71,434.08 L339.22,434.08 L339.72,434.08 L340.22,434.08 L340.72,434.08 L341.23,434.08 L341.73,434.07 L342.23,434.07 L342.73,434.07 L343.24,434.07 L343.74,434.07 L344.24,434.07 L344.74,434.07 L345.25,434.07 L345.75,434.07 L346.25,434.07 L346.75,434.07 L347.25,434.07 L347.76,434.07 L348.26,434.06 L348.76,434.06 L349.26,434.06 L349.77,434.06 L350.27,434.06 L350.77,434.06 L351.27,434.06 L351.78,434.06 L352.28,434.05 L352.78,434.05 L353.28,434.05 L353.79,434.05 L354.29,434.05 L354.79,434.05 L355.29,434.04 L355.80,434.04 L356.30,434.04 L356.80,434.04 L357.30,434.03 L357.80,434.03 L358.31,434.03 L358.81,434.03 L359.31,434.02 L359.81,434.02 L360.32,434.02 L360.82,434.01 L361.32,434.01 L361.82,434.00 L362.33,434.00 L362.83,433.99 L363.33,433.99 L363.83,433.98 L364.34,433.98 L364.84,433.97 L365.34,433.96 L365.84,433.95 L366.35,433.95 L366.85,433.94 L367.35,433.93 L367.85,433.91 L368.35,433.90 L368.86,433.89 L369.36,433.87 L369.86,433.85 L370.36,433.83 L370.87,433.81 L371.37,433.79 L371.87,433.76 L372.37,433.73 L372.88,433.69 L373.38,433.64 L373.88,433.59 L374.38,433.54 L374.89,433.47 L375.39,433.38 L375.89,433.28 L376.39,433.16 L376.90,433.01 L377.40,432.81 L377.90,432.57 L378.40,432.25 L378.90,431.82 L379.41,431.23 L379.91,430.40 L380.41,429.20 L380.91,427.42 L381.42,424.75 L381.92,420.92 L382.42,416.42 L382.92,413.66 L383.43,415.56 L383.93,421.39 L384.43,427.51 L384.93,431.52 L385.44,433.33 L385.94,433.93 L386.44,434.07 L386.94,434.10 L399.00,434.10 L399.0,434.10" fill="#fff" stroke="#8a8a8a" stroke-width="0.85"/>
<path d="M335.7,448.30 L335.70,448.28 L336.70,448.28 L337.21,448.28 L337.71,448.28 L338.21,448.28 L338.71,448.28 L339.22,448.28 L339.72,448.28 L340.22,448.28 L340.72,448.28 L341.23,448.28 L341.73,448.28 L342.23,448.27 L342.73,448.27 L343.24,448.27 L343.74,448.27 L344.24,448.27 L344.74,448.27 L345.25,448.27 L345.75,448.27 L346.25,448.27 L346.75,448.27 L347.25,448.27 L347.76,448.27 L348.26,448.26 L348.76,448.26 L349.26,448.26 L349.77,448.26 L350.27,448.26 L350.77,448.26 L351.27,448.26 L351.78,448.26 L352.28,448.26 L352.78,448.25 L353.28,448.25 L353.79,448.25 L354.29,448.25 L354.79,448.25 L355.29,448.25 L355.80,448.24 L356.30,448.24 L356.80,448.24 L357.30,448.24 L357.80,448.23 L358.31,448.23 L358.81,448.23 L359.31,448.23 L359.81,448.22 L360.32,448.22 L360.82,448.22 L361.32,448.21 L361.82,448.21 L362.33,448.20 L362.83,448.20 L363.33,448.19 L363.83,448.19 L364.34,448.18 L364.84,448.17 L365.34,448.17 L365.84,448.16 L366.35,448.15 L366.85,448.14 L367.35,448.13 L367.85,448.12 L368.35,448.11 L368.86,448.10 L369.36,448.08 L369.86,448.06 L370.36,448.05 L370.87,448.02 L371.37,448.00 L371.87,447.98 L372.37,447.95 L372.88,447.91 L373.38,447.87 L373.88,447.83 L374.38,447.77 L374.89,447.71 L375.39,447.63 L375.89,447.54 L376.39,447.43 L376.90,447.30 L377.40,447.13 L377.90,446.92 L378.40,446.65 L378.90,446.29 L379.41,445.80 L379.91,445.13 L380.41,444.17 L380.91,442.77 L381.42,440.67 L381.92,437.55 L382.42,433.31 L382.92,429.09 L383.43,427.98 L383.93,431.83 L384.43,438.21 L384.93,443.62 L385.44,446.66 L385.94,447.87 L386.44,448.21 L386.94,448.29 L399.00,448.30 L399.0,448.30" fill="#fff" stroke="#8a8a8a" stroke-width="0.85"/>
<path d="M335.7,462.80 L335.70,462.79 L355.29,462.78 L355.80,462.78 L356.30,462.78 L356.80,462.78 L357.30,462.78 L357.80,462.78 L358.31,462.77 L358.81,462.75 L359.31,462.69 L359.81,462.51 L360.32,462.12 L360.82,461.38 L361.32,460.27 L361.82,458.99 L362.33,457.93 L362.83,457.53 L363.33,457.89 L363.83,458.71 L364.34,459.32 L364.84,459.11 L365.34,457.82 L365.84,455.78 L366.35,453.82 L366.85,452.91 L367.35,453.50 L367.85,455.25 L368.35,457.14 L368.86,458.04 L369.36,457.15 L369.86,454.37 L370.36,450.45 L370.87,446.90 L371.37,445.34 L371.87,446.51 L372.37,449.75 L372.88,453.38 L373.38,455.61 L373.88,455.35 L374.38,452.52 L374.89,448.19 L375.39,444.22 L375.89,442.55 L376.39,444.03 L376.90,447.97 L377.40,452.68 L377.90,456.61 L378.40,459.02 L378.90,459.97 L379.41,459.76 L379.91,458.55 L380.41,456.24 L380.91,453.18 L381.42,452.08 L381.92,454.07 L382.42,457.42 L382.92,460.29 L383.43,461.92 L383.93,462.57 L384.43,462.75 L384.93,462.79 L399.00,462.80 L399.0,462.80" fill="#fff" stroke="#8a8a8a" stroke-width="0.85"/>
<line x1="335.7" y1="368.4" x2="335.7" y2="462.8" stroke="#a8a8a8" stroke-width="0.9"/>
<line x1="399.0" y1="368.4" x2="399.0" y2="462.8" stroke="#a0a0a0" stroke-width="1"/>
<line x1="335.2" y1="368.4" x2="399.5" y2="368.4" stroke="#858585" stroke-width="1.3"/>
<line x1="335.2" y1="462.8" x2="399.5" y2="462.8" stroke="#5a5a5a" stroke-width="1.7"/>
<text transform="translate(351.1,472.8) scale(0.85,1)" font-size="7.9" text-anchor="middle" fill="#1a1a1a">10<tspan font-size="4.6" dy="-2.6">1</tspan></text>
<text transform="translate(366.9,472.8) scale(0.85,1)" font-size="7.9" text-anchor="middle" fill="#1a1a1a">10<tspan font-size="4.6" dy="-2.6">2</tspan></text>
<text transform="translate(382.8,472.8) scale(0.85,1)" font-size="7.9" text-anchor="middle" fill="#1a1a1a">10<tspan font-size="4.6" dy="-2.6">3</tspan></text>
<text transform="translate(398.6,472.8) scale(0.85,1)" font-size="7.9" text-anchor="middle" fill="#1a1a1a">10<tspan font-size="4.6" dy="-2.6">4</tspan></text>
<line x1="340.5" y1="463.4" x2="340.5" y2="464.6" stroke="#888" stroke-width="0.7"/>
<line x1="343.3" y1="463.4" x2="343.3" y2="464.6" stroke="#888" stroke-width="0.7"/>
<line x1="345.2" y1="463.4" x2="345.2" y2="464.6" stroke="#888" stroke-width="0.7"/>
<line x1="346.8" y1="463.4" x2="346.8" y2="464.6" stroke="#888" stroke-width="0.7"/>
<line x1="348.0" y1="463.4" x2="348.0" y2="464.6" stroke="#888" stroke-width="0.7"/>
<line x1="349.1" y1="463.4" x2="349.1" y2="464.6" stroke="#888" stroke-width="0.7"/>
<line x1="350.0" y1="463.4" x2="350.0" y2="464.6" stroke="#888" stroke-width="0.7"/>
<line x1="350.8" y1="463.4" x2="350.8" y2="464.6" stroke="#888" stroke-width="0.7"/>
<line x1="356.3" y1="463.4" x2="356.3" y2="464.6" stroke="#888" stroke-width="0.7"/>
<line x1="359.1" y1="463.4" x2="359.1" y2="464.6" stroke="#888" stroke-width="0.7"/>
<line x1="361.1" y1="463.4" x2="361.1" y2="464.6" stroke="#888" stroke-width="0.7"/>
<line x1="362.6" y1="463.4" x2="362.6" y2="464.6" stroke="#888" stroke-width="0.7"/>
<line x1="363.8" y1="463.4" x2="363.8" y2="464.6" stroke="#888" stroke-width="0.7"/>
<line x1="364.9" y1="463.4" x2="364.9" y2="464.6" stroke="#888" stroke-width="0.7"/>
<line x1="365.8" y1="463.4" x2="365.8" y2="464.6" stroke="#888" stroke-width="0.7"/>
<line x1="366.6" y1="463.4" x2="366.6" y2="464.6" stroke="#888" stroke-width="0.7"/>
<line x1="372.1" y1="463.4" x2="372.1" y2="464.6" stroke="#888" stroke-width="0.7"/>
<line x1="374.9" y1="463.4" x2="374.9" y2="464.6" stroke="#888" stroke-width="0.7"/>
<line x1="376.9" y1="463.4" x2="376.9" y2="464.6" stroke="#888" stroke-width="0.7"/>
<line x1="378.4" y1="463.4" x2="378.4" y2="464.6" stroke="#888" stroke-width="0.7"/>
<line x1="379.7" y1="463.4" x2="379.7" y2="464.6" stroke="#888" stroke-width="0.7"/>
<line x1="380.7" y1="463.4" x2="380.7" y2="464.6" stroke="#888" stroke-width="0.7"/>
<line x1="381.6" y1="463.4" x2="381.6" y2="464.6" stroke="#888" stroke-width="0.7"/>
<line x1="382.5" y1="463.4" x2="382.5" y2="464.6" stroke="#888" stroke-width="0.7"/>
<line x1="387.9" y1="463.4" x2="387.9" y2="464.6" stroke="#888" stroke-width="0.7"/>
<line x1="390.7" y1="463.4" x2="390.7" y2="464.6" stroke="#888" stroke-width="0.7"/>
<line x1="392.7" y1="463.4" x2="392.7" y2="464.6" stroke="#888" stroke-width="0.7"/>
<line x1="394.2" y1="463.4" x2="394.2" y2="464.6" stroke="#888" stroke-width="0.7"/>
<line x1="395.5" y1="463.4" x2="395.5" y2="464.6" stroke="#888" stroke-width="0.7"/>
<line x1="396.5" y1="463.4" x2="396.5" y2="464.6" stroke="#888" stroke-width="0.7"/>
<line x1="397.5" y1="463.4" x2="397.5" y2="464.6" stroke="#888" stroke-width="0.7"/>
<line x1="398.3" y1="463.4" x2="398.3" y2="464.6" stroke="#888" stroke-width="0.7"/>
<text x="409.0" y="416.5" font-size="10.4" text-anchor="middle" font-weight="normal" fill="#1a1a1a" >83</text>
<text x="409.0" y="430.09999999999997" font-size="10.4" text-anchor="middle" font-weight="normal" fill="#1a1a1a" >82</text>
<text x="409.0" y="443.0" font-size="10.4" text-anchor="middle" font-weight="normal" fill="#1a1a1a" >82</text>
<text x="409.0" y="457.4" font-size="10.4" text-anchor="middle" font-weight="normal" fill="#1a1a1a" >-9</text>
<text x="429.7" y="386.2" font-size="8.7" text-anchor="start" font-weight="normal" fill="#1a1a1a" >No Stimulation</text>
<text x="429.7" y="401.9" font-size="8.7" text-anchor="start" font-weight="normal" fill="#1a1a1a" >No Treg</text>
<text x="429.7" y="416.3" font-size="8.7" text-anchor="start" font-weight="normal" fill="#1a1a1a" >4: 1 Teff:Treg</text>
<text x="429.7" y="429.5" font-size="8.7" text-anchor="start" font-weight="normal" fill="#1a1a1a" >8: 1 Teff:Treg</text>
<text x="429.7" y="442.7" font-size="8.7" text-anchor="start" font-weight="normal" fill="#1a1a1a" >16: 1 Teff:Treg</text>
<text x="429.7" y="457.09999999999997" font-size="8.7" text-anchor="start" font-weight="normal" fill="#1a1a1a" >32: 1 Teff:Treg</text>
<text x="239.5" y="495.1" font-size="10.1" text-anchor="middle" font-weight="normal" fill="#1a1a1a" >CFSE</text></svg>
</body></html>
